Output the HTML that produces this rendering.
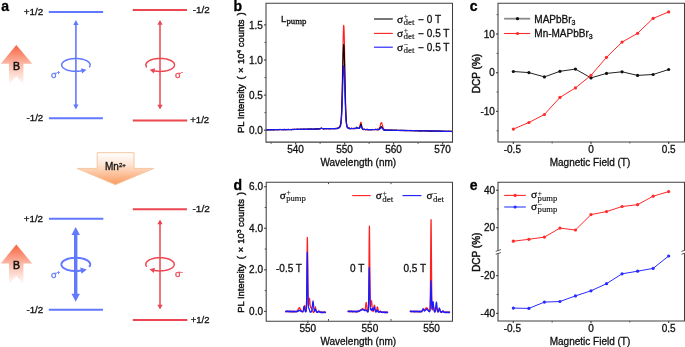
<!DOCTYPE html>
<html><head><meta charset="utf-8"><style>
html,body{margin:0;padding:0;background:#fff;}
svg{display:block;will-change:transform;} .rt text{stroke-width:0.45px;}
</style></head><body>
<svg xmlns="http://www.w3.org/2000/svg" width="685" height="347" viewBox="0 0 685 347">
<defs>
<linearGradient id="gB" x1="0" y1="0" x2="0" y2="1">
<stop offset="0" stop-color="#f8623f"/><stop offset="0.45" stop-color="#fbb3a0"/><stop offset="0.8" stop-color="#fde2d9"/><stop offset="1" stop-color="#fffaf8"/>
</linearGradient>
<linearGradient id="gMn" x1="0" y1="0" x2="0" y2="1">
<stop offset="0" stop-color="#ffffff"/><stop offset="0.35" stop-color="#fde6d6"/><stop offset="1" stop-color="#fb9a5c"/>
</linearGradient>
</defs>
<rect width="685" height="347" fill="#fff"/>
<text x="1.3" y="10.6" font-size="14" text-anchor="start" font-weight="bold" fill="#000" font-family='"Liberation Sans", sans-serif'  stroke="#000" stroke-width="0.3">a</text>
<line x1="48.8" y1="11.9" x2="103.1" y2="11.9" stroke="#6178ff" stroke-width="2" />
<text x="23.87" y="14.8" font-size="9" fill="#111" font-family='"Liberation Sans", sans-serif' textLength="19.5" lengthAdjust="spacingAndGlyphs" stroke="#111" stroke-width="0.3">+1/2</text>
<line x1="132.8" y1="9.9" x2="187" y2="9.9" stroke="#ec4650" stroke-width="2" />
<text x="192.71" y="12.9" font-size="9" fill="#111" font-family='"Liberation Sans", sans-serif' textLength="16.95" lengthAdjust="spacingAndGlyphs" stroke="#111" stroke-width="0.3">-1/2</text>
<line x1="75.9" y1="24.4" x2="75.9" y2="105" stroke="#6178ff" stroke-width="1.6" />
<polygon points="75.9,19.9 73.3,24.9 78.5,24.9" fill="#6178ff" />
<polygon points="75.9,109.5 73.3,104.5 78.5,104.5" fill="#6178ff" />
<line x1="160" y1="24.3" x2="160" y2="105.2" stroke="#ec4650" stroke-width="1.5" />
<polygon points="160,20 157.4,24.8 162.6,24.8" fill="#ec4650" />
<polygon points="160,109.5 157.4,104.7 162.6,104.7" fill="#ec4650" />
<line x1="48.9" y1="118.2" x2="102.9" y2="118.2" stroke="#6178ff" stroke-width="2" />
<text x="26.52" y="121.3" font-size="9" fill="#111" font-family='"Liberation Sans", sans-serif' textLength="16.74" lengthAdjust="spacingAndGlyphs" stroke="#111" stroke-width="0.3">-1/2</text>
<line x1="132.8" y1="120.4" x2="187.2" y2="120.4" stroke="#ec4650" stroke-width="2" />
<text x="190.28" y="123.3" font-size="9" fill="#111" font-family='"Liberation Sans", sans-serif' textLength="18.87" lengthAdjust="spacingAndGlyphs" stroke="#111" stroke-width="0.3">+1/2</text>
<polygon points="16.3,45 32.2,63.8 23.4,63.8 23.4,84.4 16.3,76.3 9,84.4 9,63.8 0.8,63.8" fill="url(#gB)" />
<text x="16.5" y="69.5" font-size="10.5" text-anchor="middle" fill="#111" stroke="#111" stroke-width="0.55" font-family='"Liberation Sans", sans-serif'>B</text>
<polyline points="89.07,67.3 89.37,66.93 89.62,66.55 89.82,66.17 89.97,65.78 90.06,65.38 90.1,64.99 90.08,64.59 90.02,64.2 89.89,63.81 89.72,63.42 89.49,63.04 89.21,62.67 88.88,62.3 88.5,61.95 88.07,61.6 87.6,61.27 87.08,60.95 86.52,60.65 85.92,60.36 85.28,60.09 84.6,59.84 83.9,59.61 83.16,59.4 82.39,59.21 81.6,59.04 80.79,58.89 79.96,58.77 79.11,58.67 78.25,58.59 77.38,58.54 76.51,58.51 75.64,58.5 74.76,58.52 73.89,58.56 73.03,58.63 72.18,58.72 71.34,58.84 70.52,58.98 69.72,59.14 68.94,59.32 68.19,59.52 67.47,59.75 66.79,59.99 66.13,60.26 65.51,60.54 64.94,60.83 64.4,61.14 63.91,61.47 63.46,61.81 63.07,62.16 62.72,62.52 62.42,62.89 62.17,63.27 61.97,63.66 61.83,64.05 61.74,64.44 61.7,64.83 61.72,65.23 61.79,65.62 61.92,66.01 62.09,66.4 62.33,66.78 62.61,67.15 62.94,67.52 63.32,67.87 63.75,68.22 64.23,68.55 64.75,68.86 65.31,69.17 65.92,69.45 66.56,69.72 67.24,69.97 67.95,70.2 68.69,70.41 69.45,70.6 70.25,70.77 71.06,70.92 71.89,71.04 72.74,71.14 73.6,71.22 74.47,71.27 75.34,71.29 76.21,71.3 77.09,71.28 77.96,71.23 78.82,71.16 79.67,71.07 80.51,70.95 81.33,70.81 82.12,70.65" stroke="#6178ff" stroke-width="1.5" fill="none" stroke-linejoin="round" />
<polygon points="86.42,69.71 82.12,73.42 80.96,68.14" fill="#6178ff" />
<polyline points="146.94,67.33 146.64,66.96 146.38,66.58 146.18,66.18 146.03,65.79 145.94,65.39 145.9,64.99 145.92,64.59 145.99,64.19 146.11,63.79 146.29,63.4 146.52,63.01 146.8,62.63 147.13,62.26 147.51,61.9 147.94,61.55 148.42,61.22 148.94,60.89 149.51,60.58 150.11,60.29 150.76,60.02 151.44,59.76 152.15,59.53 152.89,59.31 153.66,59.12 154.46,58.95 155.28,58.8 156.11,58.67 156.97,58.57 157.83,58.49 158.71,58.44 159.58,58.41 160.47,58.4 161.35,58.42 162.22,58.47 163.09,58.53 163.95,58.63 164.79,58.74 165.62,58.88 166.42,59.05 167.21,59.23 167.96,59.44 168.69,59.67 169.38,59.92 170.04,60.18 170.66,60.47 171.24,60.77 171.78,61.09 172.27,61.42 172.72,61.76 173.12,62.12 173.48,62.49 173.78,62.86 174.03,63.25 174.23,63.64 174.37,64.03 174.46,64.43 174.5,64.83 174.48,65.23 174.41,65.63 174.28,66.03 174.1,66.42 173.87,66.81 173.59,67.19 173.25,67.56 172.86,67.92 172.43,68.27 171.95,68.6 171.43,68.93 170.86,69.23 170.25,69.52 169.61,69.8 168.93,70.05 168.21,70.28 167.46,70.5 166.69,70.69 165.89,70.86 165.08,71.01 164.24,71.14 163.38,71.24 162.52,71.31 161.65,71.37 160.77,71.39 159.88,71.4 159,71.38 158.13,71.33 157.26,71.26 156.4,71.17 155.56,71.05 154.74,70.91 153.93,70.74" stroke="#ec4650" stroke-width="1.5" fill="none" stroke-linejoin="round" />
<polygon points="149.64,69.79 155.1,68.24 153.93,73.51" fill="#ec4650" />
<text x="50.9" y="77.9" font-size="9.5" fill="#6178ff" font-family='"Liberation Sans", sans-serif' stroke="#6178ff" stroke-width="0.3">σ<tspan font-size="5.7" dy="-3.5">+</tspan></text>
<text x="175.1" y="77.9" font-size="9.5" fill="#ec4650" font-family='"Liberation Sans", sans-serif' stroke="#ec4650" stroke-width="0.3">σ<tspan font-size="5.7" dy="-3.5">-</tspan></text>
<polygon points="97.2,152.7 134,152.7 134,168.4 153.7,168.4 115.4,184.7 77.2,168.4 97.2,168.4" fill="url(#gMn)" stroke="#f6c6a0" stroke-width="1"/>
<text x="105.0" y="169.6" font-size="10" fill="#111" font-family='"Liberation Sans", sans-serif' stroke="#111" stroke-width="0.3">Mn<tspan font-size="6.2" dy="-2.7">2+</tspan></text>
<line x1="49" y1="218.7" x2="103.3" y2="218.7" stroke="#6178ff" stroke-width="2" />
<text x="23.77" y="221.8" font-size="9" fill="#111" font-family='"Liberation Sans", sans-serif' textLength="19.29" lengthAdjust="spacingAndGlyphs" stroke="#111" stroke-width="0.3">+1/2</text>
<line x1="132.8" y1="209.2" x2="186.9" y2="209.2" stroke="#ec4650" stroke-width="2" />
<text x="192.5" y="212" font-size="9" fill="#111" font-family='"Liberation Sans", sans-serif' textLength="17.27" lengthAdjust="spacingAndGlyphs" stroke="#111" stroke-width="0.3">-1/2</text>
<line x1="75.7" y1="234.5" x2="75.7" y2="294.3" stroke="#6178ff" stroke-width="3.4" />
<polygon points="75.7,227 71.5,235 79.9,235" fill="#6178ff" />
<polygon points="75.7,301.8 71.5,293.8 79.9,293.8" fill="#6178ff" />
<line x1="160" y1="223.8" x2="160" y2="305.2" stroke="#ec4650" stroke-width="1.5" />
<polygon points="160,219.5 157.4,224.3 162.6,224.3" fill="#ec4650" />
<polygon points="160,309.5 157.4,304.7 162.6,304.7" fill="#ec4650" />
<line x1="48.8" y1="309.8" x2="103" y2="309.8" stroke="#6178ff" stroke-width="2" />
<text x="26.42" y="312.7" font-size="9" fill="#111" font-family='"Liberation Sans", sans-serif' textLength="16.84" lengthAdjust="spacingAndGlyphs" stroke="#111" stroke-width="0.3">-1/2</text>
<line x1="132.8" y1="319.9" x2="187.4" y2="319.9" stroke="#ec4650" stroke-width="2" />
<text x="190.69" y="322.5" font-size="9" fill="#111" font-family='"Liberation Sans", sans-serif' textLength="18.76" lengthAdjust="spacingAndGlyphs" stroke="#111" stroke-width="0.3">+1/2</text>
<polygon points="16.3,244.6 32.2,263.4 23.4,263.4 23.4,284 16.3,275.9 9,284 9,263.4 0.8,263.4" fill="url(#gB)" />
<text x="16.5" y="269.1" font-size="10.5" text-anchor="middle" fill="#111" stroke="#111" stroke-width="0.55" font-family='"Liberation Sans", sans-serif'>B</text>
<polyline points="89.15,266.87 89.46,266.49 89.71,266.11 89.91,265.72 90.06,265.32 90.16,264.92 90.2,264.52 90.19,264.11 90.12,263.71 90,263.31 89.83,262.92 89.61,262.53 89.33,262.14 89.01,261.77 88.63,261.4 88.21,261.05 87.74,260.71 87.22,260.38 86.67,260.07 86.07,259.77 85.44,259.5 84.76,259.23 84.06,258.99 83.32,258.77 82.56,258.57 81.77,258.39 80.96,258.24 80.13,258.11 79.28,258 78.42,257.91 77.55,257.85 76.68,257.81 75.8,257.8 74.92,257.81 74.05,257.85 73.18,257.91 72.32,258 71.47,258.11 70.64,258.24 69.83,258.39 69.04,258.57 68.28,258.77 67.54,258.99 66.84,259.23 66.16,259.5 65.53,259.77 64.93,260.07 64.38,260.38 63.86,260.71 63.39,261.05 62.97,261.4 62.59,261.77 62.27,262.14 61.99,262.53 61.77,262.92 61.6,263.31 61.48,263.71 61.41,264.11 61.4,264.52 61.44,264.92 61.54,265.32 61.69,265.72 61.89,266.11 62.14,266.49 62.45,266.87 62.8,267.24 63.21,267.6 63.66,267.95 64.15,268.28 64.69,268.6 65.27,268.9 65.89,269.19 66.54,269.46 67.23,269.71 67.96,269.94 68.71,270.14 69.49,270.33 70.29,270.5 71.11,270.64 71.95,270.76 72.81,270.86 73.67,270.93 74.54,270.97 75.42,271 76.3,271 77.18,270.97 78.05,270.92 78.92,270.84 79.77,270.74 80.61,270.62 81.43,270.48" stroke="#6178ff" stroke-width="2.0" fill="none" stroke-linejoin="round" />
<polygon points="86.83,269.42 81.45,273.73 80.23,267.45" fill="#6178ff" />
<polyline points="146.83,266.77 146.53,266.39 146.28,266 146.08,265.6 145.93,265.2 145.84,264.8 145.8,264.39 145.82,263.99 145.88,263.58 146.01,263.18 146.18,262.78 146.41,262.39 146.69,262 147.02,261.62 147.4,261.26 147.83,260.9 148.3,260.56 148.82,260.23 149.38,259.92 149.98,259.62 150.62,259.34 151.3,259.08 152,258.85 152.74,258.63 153.51,258.43 154.3,258.26 155.11,258.1 155.94,257.98 156.79,257.87 157.65,257.79 158.52,257.74 159.39,257.71 160.26,257.7 161.14,257.72 162.01,257.77 162.87,257.84 163.72,257.93 164.56,258.05 165.38,258.19 166.18,258.36 166.96,258.55 167.71,258.76 168.43,258.99 169.11,259.24 169.77,259.51 170.39,259.8 170.96,260.1 171.5,260.43 171.99,260.76 172.44,261.11 172.83,261.48 173.18,261.85 173.48,262.23 173.73,262.62 173.93,263.02 174.07,263.42 174.16,263.82 174.2,264.23 174.18,264.64 174.11,265.04 173.98,265.45 173.81,265.84 173.57,266.24 173.29,266.62 172.96,267 172.58,267.36 172.15,267.72 171.67,268.06 171.15,268.39 170.59,268.7 169.98,268.99 169.34,269.27 168.66,269.53 167.95,269.77 167.21,269.98 166.45,270.18 165.65,270.35 164.84,270.5 164.01,270.63 163.16,270.73 162.3,270.81 161.43,270.87 160.56,270.89 159.69,270.9 158.81,270.88 157.94,270.83 157.08,270.76 156.23,270.66 155.39,270.54 154.57,270.4 153.78,270.23" stroke="#ec4650" stroke-width="1.5" fill="none" stroke-linejoin="round" />
<polygon points="149.48,269.26 154.96,267.73 153.76,273" fill="#ec4650" />
<text x="50.9" y="277.7" font-size="9.5" fill="#6178ff" font-family='"Liberation Sans", sans-serif' stroke="#6178ff" stroke-width="0.3">σ<tspan font-size="5.7" dy="-3.5">+</tspan></text>
<text x="175.1" y="277.3" font-size="9.5" fill="#ec4650" font-family='"Liberation Sans", sans-serif' stroke="#ec4650" stroke-width="0.3">σ<tspan font-size="5.7" dy="-3.5">-</tspan></text>
<text x="233.4" y="10.6" font-size="14" text-anchor="start" font-weight="bold" fill="#000" font-family='"Liberation Sans", sans-serif'  stroke="#000" stroke-width="0.3">b</text>
<clipPath id="cb"><rect x="266" y="3.2" width="186.4" height="139"/></clipPath>
<g clip-path="url(#cb)">
<polyline points="265.5,129.65 266,129.94 266.5,129.9 267,129.69 267.5,129.78 268,129.75 268.5,129.83 269,129.88 269.5,129.59 270,129.56 270.5,129.88 271,129.71 271.5,129.83 272,129.52 272.5,129.69 273,129.8 273.5,129.59 274,129.87 274.5,129.85 275,129.49 275.5,129.49 276,129.68 276.5,129.84 277,129.61 277.5,129.54 278,129.61 278.5,129.45 279,129.52 279.5,129.6 280,129.61 280.5,129.5 281,129.49 281.5,129.48 282,129.57 282.5,129.5 283,129.38 283.5,129.7 284,129.59 284.5,129.61 285,129.42 285.5,129.74 286,129.68 286.5,129.37 287,129.45 287.5,129.6 288,129.58 288.5,129.67 289,129.45 289.5,129.61 290,129.53 290.5,129.38 291,129.49 291.5,129.59 292,129.57 292.5,129.43 293,129.45 293.5,129.22 294,129.3 294.5,129.51 295,129.35 295.5,129.24 296,129.39 296.5,129.44 297,129.42 297.5,129.29 298,129.31 298.5,129.33 299,129.43 299.5,129.32 300,129.26 300.5,129.29 301,129.1 301.5,129.09 302,129.35 302.5,129.45 303,129.29 303.5,129.2 304,129.1 304.5,129.23 305,129.41 305.5,129.32 306,129.22 306.5,129.34 307,129.08 307.5,129.18 308,129.35 308.5,129.19 309,129.13 309.5,129.05 310,129.15 310.5,129.31 311,128.92 311.5,129.22 312,129.23 312.5,129.25 313,129.18 313.5,129.2 314,129.07 314.5,129.08 315,129.02 315.5,128.86 316,129.18 316.5,129.05 317,128.9 317.5,129.01 318,128.99 318.5,128.91 319,128.88 319.5,128.93 320,128.86 320.5,128.62 321,128.32 321.5,128.08 322,128.35 322.5,128.51 323,128.78 323.5,128.87 324,128.82 324.5,128.82 325,128.82 325.5,128.59 326,128.82 326.5,128.75 327,128.51 327.5,128.48 328,128.48 328.5,128.77 329,128.56 329.5,128.5 330,128.71 330.5,128.59 331,128.48 331.5,128.51 332,128.65 332.5,128.51 333,128.54 333.5,128.72 334,128.61 334.5,128.55 335,128.6 335.5,128.41 336,128.53 336.5,128.51 337,128.35 337.5,128.19 337.7,128.44 337.9,128.21 338.1,127.99 338.3,128.03 338.5,127.98 338.7,127.5 338.9,127.32 339.1,127.16 339.3,127.14 339.5,126.64 339.7,126.53 339.9,126.13 340.1,125.59 340.3,124.83 340.5,124.3 340.7,123.09 340.9,121.41 341.1,119.1 341.3,116.26 341.5,112.12 341.7,106.92 341.9,100.15 342.1,92.18 342.3,82.54 342.5,72.21 342.7,61.54 342.9,50.75 343.1,40.75 343.3,33.01 343.5,27.38 343.7,25.3 343.9,26.22 344.1,30.32 344.3,37.31 344.5,46.46 344.7,57.42 344.9,68.24 345.1,79.5 345.3,89.67 345.5,98.39 345.7,105.68 345.9,111.95 346.1,116.62 346.3,119.96 346.5,122.38 346.7,124.09 346.9,125.3 347.1,126.09 347.3,126.86 347.5,127.17 347.7,127.37 347.9,127.55 348.1,127.94 348.3,127.92 348.5,128.11 348.7,128.13 348.9,128.41 349.1,128.48 349.3,128.17 349.5,128.28 349.7,128.37 349.9,128.65 350.1,128.59 350.6,128.45 351.1,128.41 351.6,128.61 352.1,128.68 352.6,128.71 353.1,128.47 353.6,128.68 354.1,128.6 354.6,128.51 355.1,128.7 355.6,128.39 356.1,128.04 356.6,127.24 357.1,127.53 357.6,128.28 358.1,128.21 358.3,128.44 358.5,128.38 358.7,128.47 358.9,128.23 359.1,128.12 359.3,127.88 359.5,127.74 359.7,127.06 359.9,126.4 360.1,125.4 360.3,124.07 360.5,123.29 360.7,122.47 360.9,122.24 361.1,122.56 361.3,123.62 361.5,124.63 361.7,125.78 361.9,126.64 362.1,127.64 362.3,128.38 362.5,128.69 362.7,129.08 362.9,129.14 363.1,129.19 363.3,129.3 363.5,129.57 363.7,129.45 363.9,129.61 364.1,129.43 364.6,129.38 365.1,129.6 365.6,129.64 366.1,129.34 366.6,129.62 367.1,129.41 367.6,129.44 368.1,129.77 368.6,129.46 369.1,129.56 369.6,129.88 370.1,129.66 370.6,129.52 371.1,129.52 371.6,129.53 372.1,129.71 372.6,129.44 373.1,129.74 373.6,129.51 374.1,129.72 374.6,129.68 375.1,129.42 375.6,129.42 376.1,129.53 376.6,129.39 377.1,129.62 377.3,129.38 377.5,129.36 377.7,129.74 377.9,129.44 378.1,129.53 378.3,129.41 378.5,129.27 378.7,129.03 378.9,129.16 379.1,128.91 379.3,128.54 379.5,127.73 379.7,127.21 379.9,126.73 380.1,126.17 380.3,125.25 380.5,124.58 380.7,123.91 380.9,123.19 381.1,122.92 381.3,122.63 381.5,122.62 381.7,122.78 381.9,123.29 382.1,124.15 382.3,124.64 382.5,125.48 382.7,126.25 382.9,127.11 383.1,127.57 383.3,128.13 383.5,128.63 383.7,129.03 383.9,129.55 384.1,129.8 384.3,129.73 384.5,129.85 384.7,130.01 384.9,130.08 385.1,130.12 385.3,130 385.5,129.93 385.7,130.02 385.9,129.96 386.1,130.16 386.6,129.98 387.1,129.99 387.6,130.23 388.1,130.1 388.6,130.31 389.1,130.2 389.6,130.36 390.1,130.08 390.6,130.23 391.1,130.36 391.6,130.08 392.1,130.44 392.6,130.14 393.1,130.39 393.6,130.49 394.1,130.43 394.6,130.24 395.1,130.16 395.6,130.34 396.1,130.51 396.6,130.27 397.1,130.52 397.6,130.22 398.1,130.54 398.6,130.2 399.1,130.32 399.6,130.57 400.1,130.54 400.6,130.59 401.1,130.57 401.6,130.54 402.1,130.53 402.6,130.33 403.1,130.44 403.6,130.34 404.1,130.58 404.6,130.57 405.1,130.41 405.6,130.34 406.1,130.71 406.6,130.66 407.1,130.57 407.6,130.57 408.1,130.7 408.6,130.56 409.1,130.54 409.6,130.53 410.1,130.5 410.6,130.42 411.1,130.68 411.6,130.6 412.1,130.67 412.6,130.47 413.1,130.6 413.6,130.52 414.1,130.52 414.6,130.59 415.1,130.82 415.6,130.66 416.1,130.67 416.6,130.76 417.1,130.62 417.6,130.54 418.1,130.76 418.6,130.75 419.1,130.82 419.6,130.75 420.1,130.85 420.6,130.88 421.1,130.69 421.6,130.81 422.1,130.81 422.6,130.72 423.1,130.8 423.6,130.87 424.1,131.01 424.6,131.03 425.1,130.78 425.6,130.94 426.1,130.71 426.6,130.73 427.1,130.91 427.6,131.07 428.1,130.79 428.6,131.05 429.1,131.1 429.6,130.88 430.1,131.04 430.6,131.12 431.1,130.94 431.6,131.08 432.1,131.1 432.6,131.05 433.1,131.17 433.6,131.19 434.1,131.23 434.6,131.08 435.1,130.93 435.6,130.97 436.1,130.97 436.6,131.12 437.1,131.21 437.6,130.93 438.1,131.19 438.6,131.22 439.1,131.08 439.6,131.16 440.1,131.03 440.6,131.26 441.1,131 441.6,131.38 442.1,131.32 442.6,131.26 443.1,131.13 443.6,131.39 444.1,131.42 444.6,131.1 445.1,131.37 445.6,131.4 446.1,131.34 446.6,131.37 447.1,131.27 447.6,131.48 448.1,131.5 448.6,131.28 449.1,131.46 449.6,131.32 450.1,131.22 450.6,131.29 451.1,131.22 451.6,131.55 452.1,131.58 452.6,131.25" stroke="#ff2020" stroke-width="1.15" fill="none" stroke-linejoin="round" />
<polyline points="265.5,129.98 266,129.98 266.5,129.62 267,129.62 267.5,129.91 268,129.87 268.5,129.83 269,129.68 269.5,129.8 270,129.79 270.5,129.77 271,129.6 271.5,129.7 272,129.68 272.5,129.8 273,129.91 273.5,129.88 274,129.71 274.5,129.67 275,129.59 275.5,129.49 276,129.48 276.5,129.65 277,129.58 277.5,129.6 278,129.8 278.5,129.65 279,129.65 279.5,129.52 280,129.43 280.5,129.54 281,129.46 281.5,129.6 282,129.79 282.5,129.65 283,129.45 283.5,129.73 284,129.68 284.5,129.65 285,129.71 285.5,129.65 286,129.65 286.5,129.47 287,129.71 287.5,129.69 288,129.36 288.5,129.59 289,129.57 289.5,129.46 290,129.48 290.5,129.45 291,129.62 291.5,129.44 292,129.57 292.5,129.37 293,129.57 293.5,129.57 294,129.38 294.5,129.42 295,129.55 295.5,129.46 296,129.36 296.5,129.25 297,129.28 297.5,129.42 298,129.2 298.5,129.49 299,129.22 299.5,129.47 300,129.22 300.5,129.47 301,129.37 301.5,129.28 302,129.27 302.5,129.32 303,129.29 303.5,129.17 304,129.12 304.5,129.23 305,129.39 305.5,129.26 306,129.03 306.5,129.32 307,129.27 307.5,129.34 308,129.04 308.5,129.26 309,128.97 309.5,129.2 310,129.04 310.5,129.02 311,129.27 311.5,128.95 312,129.11 312.5,129.23 313,128.98 313.5,128.96 314,129.22 314.5,129.03 315,129.14 315.5,128.85 316,128.98 316.5,128.89 317,129.09 317.5,128.84 318,129.18 318.5,128.78 319,129.04 319.5,128.73 320,128.71 320.5,128.7 321,128.2 321.5,128.15 322,128.53 322.5,128.59 323,128.56 323.5,128.92 324,128.56 324.5,128.51 325,128.63 325.5,128.74 326,128.78 326.5,128.53 327,128.61 327.5,128.49 328,128.65 328.5,128.77 329,128.76 329.5,128.82 330,128.76 330.5,128.8 331,128.73 331.5,128.64 332,128.53 332.5,128.7 333,128.56 333.5,128.47 334,128.61 334.5,128.77 335,128.47 335.5,128.64 336,128.54 336.5,128.56 337,128.35 337.5,128.58 337.7,128.25 337.9,128.32 338.1,128.17 338.3,127.91 338.5,128.02 338.7,127.72 338.9,127.54 339.1,127.36 339.3,127.21 339.5,126.96 339.7,126.91 339.9,126.54 340.1,126.33 340.3,125.81 340.5,125.16 340.7,123.93 340.9,122.74 341.1,120.89 341.3,118.59 341.5,115.33 341.7,111.12 341.9,105.69 342.1,98.95 342.3,91.39 342.5,82.99 342.7,73.92 342.9,65.22 343.1,57.45 343.3,50.89 343.5,46.75 343.7,44.67 343.9,45.41 344.1,48.87 344.3,54.61 344.5,62.09 344.7,70.82 344.9,79.83 345.1,88.63 345.3,96.95 345.5,103.98 345.7,110.29 345.9,115.16 346.1,118.81 346.3,121.49 346.5,123.55 346.7,125 346.9,125.78 347.1,126.61 347.3,127.13 347.5,127.32 347.7,127.52 347.9,127.98 348.1,127.94 348.3,128.11 348.5,128.36 348.7,128.3 348.9,128.23 349.1,128.55 349.3,128.35 349.5,128.24 349.7,128.53 349.9,128.31 350.1,128.41 350.6,128.65 351.1,128.6 351.6,128.35 352.1,128.53 352.6,128.51 353.1,128.53 353.6,128.41 354.1,128.56 354.6,128.34 355.1,128.42 355.6,128.45 356.1,128.13 356.6,127.24 357.1,127.77 357.6,128 358.1,128.35 358.3,128.29 358.5,128.33 358.7,128.44 358.9,128.27 359.1,128.09 359.3,127.94 359.5,127.66 359.7,127.55 359.9,126.89 360.1,126.31 360.3,125.47 360.5,124.53 360.7,124.32 360.9,124.24 361.1,124.45 361.3,124.92 361.5,125.63 361.7,126.51 361.9,127.44 362.1,127.89 362.3,128.51 362.5,128.85 362.7,129.29 362.9,129.4 363.1,129.54 363.3,129.53 363.5,129.34 363.7,129.32 363.9,129.43 364.1,129.35 364.6,129.44 365.1,129.56 365.6,129.68 366.1,129.57 366.6,129.68 367.1,129.41 367.6,129.54 368.1,129.82 368.6,129.5 369.1,129.63 369.6,129.51 370.1,129.53 370.6,129.83 371.1,129.85 371.6,129.7 372.1,129.47 372.6,129.51 373.1,129.47 373.6,129.62 374.1,129.61 374.6,129.49 375.1,129.51 375.6,129.36 376.1,129.55 376.6,129.73 377.1,129.67 377.3,129.41 377.5,129.58 377.7,129.66 377.9,129.47 378.1,129.71 378.3,129.52 378.5,129.59 378.7,129.41 378.9,129.56 379.1,129.36 379.3,129.11 379.5,128.74 379.7,128.61 379.9,128.16 380.1,128.07 380.3,127.86 380.5,127.25 380.7,127.09 380.9,126.83 381.1,126.63 381.3,126.67 381.5,126.78 381.7,126.8 381.9,126.91 382.1,127.38 382.3,127.46 382.5,127.98 382.7,128.31 382.9,128.7 383.1,129.06 383.3,129.09 383.5,129.48 383.7,129.59 383.9,129.85 384.1,130.08 384.3,130.02 384.5,129.83 384.7,130.05 384.9,130.17 385.1,130.26 385.3,130.18 385.5,130.25 385.7,129.94 385.9,130.31 386.1,130.23 386.6,130.19 387.1,130.32 387.6,130.33 388.1,130.02 388.6,130.32 389.1,130.31 389.6,130.09 390.1,130.32 390.6,130.27 391.1,130.12 391.6,130.37 392.1,130.12 392.6,130.32 393.1,130.26 393.6,130.19 394.1,130.33 394.6,130.3 395.1,130.2 395.6,130.52 396.1,130.17 396.6,130.15 397.1,130.35 397.6,130.5 398.1,130.44 398.6,130.49 399.1,130.39 399.6,130.47 400.1,130.35 400.6,130.33 401.1,130.43 401.6,130.25 402.1,130.28 402.6,130.56 403.1,130.34 403.6,130.58 404.1,130.6 404.6,130.46 405.1,130.58 405.6,130.63 406.1,130.67 406.6,130.39 407.1,130.41 407.6,130.51 408.1,130.55 408.6,130.49 409.1,130.39 409.6,130.62 410.1,130.79 410.6,130.56 411.1,130.63 411.6,130.58 412.1,130.61 412.6,130.79 413.1,130.58 413.6,130.72 414.1,130.67 414.6,130.7 415.1,130.86 415.6,130.53 416.1,130.84 416.6,130.64 417.1,130.79 417.6,130.85 418.1,130.81 418.6,130.71 419.1,130.9 419.6,130.61 420.1,130.83 420.6,130.75 421.1,130.81 421.6,130.95 422.1,130.94 422.6,130.88 423.1,130.76 423.6,130.74 424.1,130.83 424.6,130.75 425.1,130.78 425.6,131.06 426.1,130.74 426.6,131.03 427.1,130.86 427.6,130.87 428.1,130.86 428.6,130.77 429.1,130.93 429.6,130.82 430.1,130.94 430.6,130.89 431.1,131.14 431.6,131.17 432.1,130.98 432.6,131.07 433.1,131.2 433.6,130.97 434.1,130.88 434.6,130.95 435.1,130.94 435.6,131.15 436.1,131.03 436.6,131.04 437.1,131.22 437.6,131.01 438.1,131.25 438.6,131.18 439.1,131.1 439.6,131.28 440.1,131.1 440.6,131.32 441.1,131.35 441.6,131.19 442.1,131.28 442.6,131.39 443.1,131.32 443.6,131.33 444.1,131.39 444.6,131.42 445.1,131.36 445.6,131.46 446.1,131.19 446.6,131.34 447.1,131.36 447.6,131.25 448.1,131.27 448.6,131.19 449.1,131.52 449.6,131.29 450.1,131.34 450.6,131.52 451.1,131.25 451.6,131.57 452.1,131.24 452.6,131.21" stroke="#000000" stroke-width="1.15" fill="none" stroke-linejoin="round" />
<polyline points="265.5,129.7 266,129.82 266.5,129.74 267,129.83 267.5,129.83 268,129.6 268.5,129.57 269,129.9 269.5,129.66 270,129.64 270.5,129.94 271,129.72 271.5,129.86 272,129.71 272.5,129.77 273,129.57 273.5,129.76 274,129.84 274.5,129.7 275,129.78 275.5,129.74 276,129.49 276.5,129.77 277,129.69 277.5,129.57 278,129.45 278.5,129.78 279,129.62 279.5,129.71 280,129.77 280.5,129.69 281,129.77 281.5,129.55 282,129.71 282.5,129.56 283,129.75 283.5,129.72 284,129.4 284.5,129.41 285,129.44 285.5,129.73 286,129.51 286.5,129.58 287,129.44 287.5,129.51 288,129.45 288.5,129.43 289,129.52 289.5,129.51 290,129.63 290.5,129.53 291,129.62 291.5,129.58 292,129.63 292.5,129.49 293,129.28 293.5,129.55 294,129.59 294.5,129.55 295,129.41 295.5,129.46 296,129.25 296.5,129.49 297,129.38 297.5,129.26 298,129.16 298.5,129.47 299,129.51 299.5,129.14 300,129.42 300.5,129.26 301,129.14 301.5,129.19 302,129.37 302.5,129.41 303,129.07 303.5,129.29 304,129.05 304.5,129.31 305,129.15 305.5,129.36 306,129.39 306.5,129.19 307,129.38 307.5,129.1 308,129 308.5,129.2 309,128.96 309.5,129.02 310,129.1 310.5,129.17 311,128.98 311.5,128.93 312,129.25 312.5,129.02 313,129.27 313.5,129.23 314,129.02 314.5,129.04 315,129.06 315.5,129.1 316,129.07 316.5,129.05 317,129.06 317.5,129.18 318,129 318.5,128.94 319,129.03 319.5,128.81 320,128.73 320.5,128.76 321,128.35 321.5,128.29 322,128.26 322.5,128.61 323,128.77 323.5,128.53 324,128.75 324.5,128.75 325,128.52 325.5,128.74 326,128.67 326.5,128.75 327,128.62 327.5,128.76 328,128.77 328.5,128.48 329,128.49 329.5,128.73 330,128.84 330.5,128.55 331,128.63 331.5,128.68 332,128.57 332.5,128.58 333,128.56 333.5,128.58 334,128.67 334.5,128.54 335,128.57 335.5,128.72 336,128.4 336.5,128.6 337,128.62 337.5,128.37 337.7,128.3 337.9,128.48 338.1,128.19 338.3,128.1 338.5,128.12 338.7,128.13 338.9,127.78 339.1,127.73 339.3,127.59 339.5,127.62 339.7,127.26 339.9,127.19 340.1,126.62 340.3,126.3 340.5,125.92 340.7,125.33 340.9,124.19 341.1,122.77 341.3,120.9 341.5,118.61 341.7,115.27 341.9,111.47 342.1,106.56 342.3,100.58 342.5,94.28 342.7,87.85 342.9,81.25 343.1,75.38 343.3,70.36 343.5,66.98 343.7,65.63 343.9,66.43 344.1,68.79 344.3,73.11 344.5,78.75 344.7,85.21 344.9,91.98 345.1,98.83 345.3,104.67 345.5,110 345.7,114.9 345.9,118.51 346.1,121.36 346.3,123.24 346.5,124.96 346.7,126.03 346.9,126.49 347.1,127.21 347.3,127.6 347.5,127.78 347.7,127.9 347.9,127.94 348.1,128.06 348.3,128.1 348.5,128.1 348.7,128.36 348.9,128.28 349.1,128.52 349.3,128.25 349.5,128.61 349.7,128.55 349.9,128.66 350.1,128.66 350.6,128.68 351.1,128.56 351.6,128.35 352.1,128.65 352.6,128.41 353.1,128.45 353.6,128.59 354.1,128.53 354.6,128.48 355.1,128.68 355.6,128.54 356.1,127.89 356.6,127.31 357.1,127.81 357.6,128.11 358.1,128.44 358.3,128.28 358.5,128.23 358.7,128.37 358.9,128.48 359.1,128.19 359.3,128.36 359.5,128.28 359.7,128.02 359.9,127.72 360.1,127.03 360.3,126.9 360.5,126.65 360.7,126.09 360.9,126.13 361.1,126.28 361.3,126.71 361.5,127.11 361.7,127.61 361.9,128.18 362.1,128.27 362.3,128.6 362.5,128.87 362.7,129.04 362.9,129.15 363.1,129.58 363.3,129.55 363.5,129.25 363.7,129.43 363.9,129.36 364.1,129.37 364.6,129.41 365.1,129.55 365.6,129.55 366.1,129.48 366.6,129.43 367.1,129.51 367.6,129.45 368.1,129.64 368.6,129.73 369.1,129.61 369.6,129.51 370.1,129.57 370.6,129.63 371.1,129.7 371.6,129.75 372.1,129.57 372.6,129.72 373.1,129.63 373.6,129.53 374.1,129.48 374.6,129.51 375.1,129.58 375.6,129.49 376.1,129.61 376.6,129.54 377.1,129.47 377.3,129.59 377.5,129.65 377.7,129.41 377.9,129.55 378.1,129.54 378.3,129.72 378.5,129.72 378.7,129.47 378.9,129.63 379.1,129.51 379.3,129.2 379.5,129.15 379.7,128.85 379.9,128.94 380.1,128.68 380.3,128.55 380.5,128.31 380.7,128.06 380.9,127.93 381.1,127.76 381.3,127.52 381.5,127.74 381.7,127.58 381.9,127.78 382.1,128.22 382.3,128.16 382.5,128.42 382.7,128.67 382.9,129.22 383.1,129.16 383.3,129.29 383.5,129.78 383.7,129.63 383.9,130.02 384.1,130.03 384.3,130.15 384.5,130.23 384.7,130.11 384.9,130.22 385.1,129.92 385.3,130.23 385.5,130.13 385.7,130.22 385.9,129.98 386.1,130.24 386.6,130.33 387.1,129.99 387.6,130.1 388.1,130.21 388.6,130.32 389.1,130.1 389.6,130.08 390.1,130.12 390.6,130.28 391.1,130.34 391.6,130.21 392.1,130.21 392.6,130.23 393.1,130.22 393.6,130.26 394.1,130.14 394.6,130.31 395.1,130.51 395.6,130.3 396.1,130.44 396.6,130.21 397.1,130.43 397.6,130.47 398.1,130.45 398.6,130.39 399.1,130.39 399.6,130.46 400.1,130.57 400.6,130.28 401.1,130.27 401.6,130.54 402.1,130.62 402.6,130.47 403.1,130.45 403.6,130.57 404.1,130.36 404.6,130.41 405.1,130.39 405.6,130.55 406.1,130.45 406.6,130.43 407.1,130.62 407.6,130.74 408.1,130.48 408.6,130.66 409.1,130.55 409.6,130.73 410.1,130.64 410.6,130.52 411.1,130.51 411.6,130.44 412.1,130.63 412.6,130.6 413.1,130.52 413.6,130.61 414.1,130.6 414.6,130.79 415.1,130.55 415.6,130.9 416.1,130.7 416.6,130.76 417.1,130.71 417.6,130.87 418.1,130.87 418.6,130.78 419.1,130.76 419.6,130.86 420.1,130.92 420.6,130.75 421.1,130.89 421.6,130.99 422.1,130.8 422.6,130.72 423.1,130.73 423.6,130.93 424.1,130.92 424.6,131.05 425.1,131.01 425.6,130.78 426.1,130.77 426.6,130.8 427.1,130.78 427.6,131 428.1,131.07 428.6,131.1 429.1,130.85 429.6,131.1 430.1,130.89 430.6,130.95 431.1,131.08 431.6,130.83 432.1,130.84 432.6,131.15 433.1,130.94 433.6,130.98 434.1,131.08 434.6,131.12 435.1,130.87 435.6,131.01 436.1,131.06 436.6,131.09 437.1,130.99 437.6,131.15 438.1,131.3 438.6,131.09 439.1,131.16 439.6,131 440.1,131.07 440.6,131.24 441.1,131.03 441.6,131.34 442.1,131.36 442.6,131.05 443.1,131.4 443.6,131.18 444.1,131.35 444.6,131.35 445.1,131.18 445.6,131.34 446.1,131.34 446.6,131.41 447.1,131.2 447.6,131.41 448.1,131.5 448.6,131.39 449.1,131.35 449.6,131.19 450.1,131.35 450.6,131.3 451.1,131.46 451.6,131.45 452.1,131.42 452.6,131.27" stroke="#1a1aff" stroke-width="1.15" fill="none" stroke-linejoin="round" />
</g>
<path d="M266 3.3H452.5V142.1H266Z" fill="none" stroke="#404040" stroke-width="1.05" stroke-linejoin="miter"/>
<line x1="263.9" y1="130.2" x2="266.1" y2="130.2" stroke="#4a4a4a" stroke-width="1.2" />
<line x1="263.9" y1="95.1" x2="266.1" y2="95.1" stroke="#4a4a4a" stroke-width="1.2" />
<line x1="263.9" y1="60" x2="266.1" y2="60" stroke="#4a4a4a" stroke-width="1.2" />
<line x1="263.9" y1="24.9" x2="266.1" y2="24.9" stroke="#4a4a4a" stroke-width="1.2" />
<line x1="264.5" y1="112.65" x2="266.1" y2="112.65" stroke="#4a4a4a" stroke-width="1.0" />
<line x1="264.5" y1="77.55" x2="266.1" y2="77.55" stroke="#4a4a4a" stroke-width="1.0" />
<line x1="264.5" y1="42.45" x2="266.1" y2="42.45" stroke="#4a4a4a" stroke-width="1.0" />
<text x="262.8" y="133.8" font-size="10" text-anchor="end" font-weight="normal" fill="#111" font-family='"Liberation Sans", sans-serif'  stroke="#111" stroke-width="0.3">0.0</text>
<text x="262.8" y="98.7" font-size="10" text-anchor="end" font-weight="normal" fill="#111" font-family='"Liberation Sans", sans-serif'  stroke="#111" stroke-width="0.3">0.5</text>
<text x="262.8" y="63.6" font-size="10" text-anchor="end" font-weight="normal" fill="#111" font-family='"Liberation Sans", sans-serif'  stroke="#111" stroke-width="0.3">1.0</text>
<text x="262.8" y="28.5" font-size="10" text-anchor="end" font-weight="normal" fill="#111" font-family='"Liberation Sans", sans-serif'  stroke="#111" stroke-width="0.3">1.5</text>
<line x1="295.6" y1="142.2" x2="295.6" y2="144.4" stroke="#4a4a4a" stroke-width="1.2" />
<line x1="344.6" y1="142.2" x2="344.6" y2="144.4" stroke="#4a4a4a" stroke-width="1.2" />
<line x1="393.6" y1="142.2" x2="393.6" y2="144.4" stroke="#4a4a4a" stroke-width="1.2" />
<line x1="442.6" y1="142.2" x2="442.6" y2="144.4" stroke="#4a4a4a" stroke-width="1.2" />
<line x1="271.1" y1="142.2" x2="271.1" y2="143.8" stroke="#4a4a4a" stroke-width="1.0" />
<line x1="320.1" y1="142.2" x2="320.1" y2="143.8" stroke="#4a4a4a" stroke-width="1.0" />
<line x1="369.1" y1="142.2" x2="369.1" y2="143.8" stroke="#4a4a4a" stroke-width="1.0" />
<line x1="418.1" y1="142.2" x2="418.1" y2="143.8" stroke="#4a4a4a" stroke-width="1.0" />
<text x="295.6" y="152.8" font-size="10" text-anchor="middle" font-weight="normal" fill="#111" font-family='"Liberation Sans", sans-serif'  stroke="#111" stroke-width="0.3">540</text>
<text x="344.6" y="152.8" font-size="10" text-anchor="middle" font-weight="normal" fill="#111" font-family='"Liberation Sans", sans-serif'  stroke="#111" stroke-width="0.3">550</text>
<text x="393.6" y="152.8" font-size="10" text-anchor="middle" font-weight="normal" fill="#111" font-family='"Liberation Sans", sans-serif'  stroke="#111" stroke-width="0.3">560</text>
<text x="442.6" y="152.8" font-size="10" text-anchor="middle" font-weight="normal" fill="#111" font-family='"Liberation Sans", sans-serif'  stroke="#111" stroke-width="0.3">570</text>
<text x="358.3" y="165.5" font-size="10" text-anchor="middle" font-weight="normal" fill="#111" font-family='"Liberation Sans", sans-serif'  stroke="#111" stroke-width="0.3">Wavelength (nm)</text>
<g transform="translate(243.8 133) rotate(-90)" class="rt">
<text x="0" y="0" font-size="9.6" fill="#111" font-family='"Liberation Sans", sans-serif' textLength="48.6" lengthAdjust="spacingAndGlyphs" stroke="#111" stroke-width="0.3">PL Intensity</text>
<text x="53.4" y="0" font-size="9.6" fill="#111" font-family='"Liberation Sans", sans-serif' stroke="#111" stroke-width="0.3">(</text>
<text x="60.1" y="0" font-size="9.6" fill="#111" font-family='"Liberation Sans", sans-serif' stroke="#111" stroke-width="0.3">×</text>
<text x="69" y="0" font-size="9.6" fill="#111" font-family='"Liberation Sans", sans-serif' textLength="10.4" lengthAdjust="spacingAndGlyphs" stroke="#111" stroke-width="0.3">10</text>
<text x="79.6" y="-2.8" font-size="6.2" fill="#111" font-family='"Liberation Sans", sans-serif' stroke="#111" stroke-width="0.12">4</text>
<text x="85.7" y="0" font-size="9.6" fill="#111" font-family='"Liberation Sans", sans-serif' textLength="27.9" lengthAdjust="spacingAndGlyphs" stroke="#111" stroke-width="0.3">counts</text>
<text x="117.5" y="0" font-size="9.6" fill="#111" font-family='"Liberation Sans", sans-serif' stroke="#111" stroke-width="0.3">)</text>
</g>
<text x="281.1" y="22" font-size="9.7" fill="#111" font-family='"Liberation Sans", sans-serif' stroke="#111" stroke-width="0.3">L</text>
<text x="286.4" y="24" font-size="8.8" fill="#111" font-family='"Liberation Serif", serif' stroke="#111" stroke-width="0.3">pump</text>
<line x1="374" y1="19" x2="392.8" y2="19" stroke="#606060" stroke-width="1.7" />
<line x1="374" y1="33.4" x2="392.8" y2="33.4" stroke="#ff2020" stroke-width="1.1" />
<line x1="374" y1="47.2" x2="392.8" y2="47.2" stroke="#1a1aff" stroke-width="1.1" />
<text x="397" y="22.6" font-size="10.5" fill="#111" font-family='"Liberation Serif", serif' textLength="6.1" lengthAdjust="spacingAndGlyphs" stroke="#111" stroke-width="0.3">σ</text>
<text x="403.7" y="19" font-size="7.5" fill="#111" font-family='"Liberation Serif", serif' stroke="#111" stroke-width="0.12">+</text>
<text x="403.5" y="24.8" font-size="7.6" fill="#111" font-family='"Liberation Serif", serif' textLength="11" lengthAdjust="spacingAndGlyphs" stroke="#111" stroke-width="0.12">det</text>
<text x="418.2" y="22.7" font-size="10" text-anchor="start" font-weight="normal" fill="#111" font-family='"Liberation Sans", sans-serif'  stroke="#111" stroke-width="0.3">− 0 T</text>
<text x="397" y="37" font-size="10.5" fill="#111" font-family='"Liberation Serif", serif' textLength="6.1" lengthAdjust="spacingAndGlyphs" stroke="#111" stroke-width="0.3">σ</text>
<text x="403.7" y="33.4" font-size="7.5" fill="#111" font-family='"Liberation Serif", serif' stroke="#111" stroke-width="0.12">+</text>
<text x="403.5" y="39.2" font-size="7.6" fill="#111" font-family='"Liberation Serif", serif' textLength="11" lengthAdjust="spacingAndGlyphs" stroke="#111" stroke-width="0.12">det</text>
<text x="418.2" y="37.1" font-size="10" text-anchor="start" font-weight="normal" fill="#111" font-family='"Liberation Sans", sans-serif'  stroke="#111" stroke-width="0.3">− 0.5 T</text>
<text x="397" y="50.8" font-size="10.5" fill="#111" font-family='"Liberation Serif", serif' textLength="6.1" lengthAdjust="spacingAndGlyphs" stroke="#111" stroke-width="0.3">σ</text>
<text x="403.7" y="47.2" font-size="7.5" fill="#111" font-family='"Liberation Serif", serif' stroke="#111" stroke-width="0.12">−</text>
<text x="403.5" y="53" font-size="7.6" fill="#111" font-family='"Liberation Serif", serif' textLength="11" lengthAdjust="spacingAndGlyphs" stroke="#111" stroke-width="0.12">det</text>
<text x="418.2" y="50.9" font-size="10" text-anchor="start" font-weight="normal" fill="#111" font-family='"Liberation Sans", sans-serif'  stroke="#111" stroke-width="0.3">− 0.5 T</text>
<text x="469.8" y="10.6" font-size="14" text-anchor="start" font-weight="bold" fill="#000" font-family='"Liberation Sans", sans-serif'  stroke="#000" stroke-width="0.3">c</text>
<path d="M498 3.3H684.5V142H498Z" fill="none" stroke="#404040" stroke-width="1.05" stroke-linejoin="miter"/>
<line x1="496" y1="34" x2="498.2" y2="34" stroke="#4a4a4a" stroke-width="1.2" />
<line x1="496" y1="72.7" x2="498.2" y2="72.7" stroke="#4a4a4a" stroke-width="1.2" />
<line x1="496" y1="111.4" x2="498.2" y2="111.4" stroke="#4a4a4a" stroke-width="1.2" />
<line x1="496.6" y1="14.65" x2="498.2" y2="14.65" stroke="#4a4a4a" stroke-width="1.0" />
<line x1="496.6" y1="53.35" x2="498.2" y2="53.35" stroke="#4a4a4a" stroke-width="1.0" />
<line x1="496.6" y1="92.05" x2="498.2" y2="92.05" stroke="#4a4a4a" stroke-width="1.0" />
<line x1="496.6" y1="130.75" x2="498.2" y2="130.75" stroke="#4a4a4a" stroke-width="1.0" />
<text x="494.9" y="37.6" font-size="10" text-anchor="end" font-weight="normal" fill="#111" font-family='"Liberation Sans", sans-serif'  stroke="#111" stroke-width="0.3">10</text>
<text x="494.9" y="76.3" font-size="10" text-anchor="end" font-weight="normal" fill="#111" font-family='"Liberation Sans", sans-serif'  stroke="#111" stroke-width="0.3">0</text>
<text x="494.9" y="115" font-size="10" text-anchor="end" font-weight="normal" fill="#111" font-family='"Liberation Sans", sans-serif'  stroke="#111" stroke-width="0.3">-10</text>
<line x1="513.35" y1="141.8" x2="513.35" y2="144" stroke="#4a4a4a" stroke-width="1.2" />
<line x1="591" y1="141.8" x2="591" y2="144" stroke="#4a4a4a" stroke-width="1.2" />
<line x1="668.65" y1="141.8" x2="668.65" y2="144" stroke="#4a4a4a" stroke-width="1.2" />
<line x1="552.17" y1="141.8" x2="552.17" y2="143.4" stroke="#4a4a4a" stroke-width="1.0" />
<line x1="629.83" y1="141.8" x2="629.83" y2="143.4" stroke="#4a4a4a" stroke-width="1.0" />
<text x="512.35" y="152.5" font-size="10" text-anchor="middle" font-weight="normal" fill="#111" font-family='"Liberation Sans", sans-serif'  stroke="#111" stroke-width="0.3">-0.5</text>
<text x="591" y="152.5" font-size="10" text-anchor="middle" font-weight="normal" fill="#111" font-family='"Liberation Sans", sans-serif'  stroke="#111" stroke-width="0.3">0</text>
<text x="668.65" y="152.5" font-size="10" text-anchor="middle" font-weight="normal" fill="#111" font-family='"Liberation Sans", sans-serif'  stroke="#111" stroke-width="0.3">0.5</text>
<text x="590" y="165.8" font-size="10" text-anchor="middle" font-weight="normal" fill="#111" font-family='"Liberation Sans", sans-serif'  stroke="#111" stroke-width="0.3">Magnetic Field (T)</text>
<text x="479.6" y="73.5" font-size="10" text-anchor="middle" fill="#111" font-family='"Liberation Sans", sans-serif' transform="rotate(-90 479.6 73.5)" stroke="#111" stroke-width="0.45">DCP (%)</text>
<polyline points="513.35,71.5 528.88,72.6 544.41,76.9 559.94,71.3 575.47,69.1 591,77.9 606.53,73.4 622.06,71.8 637.59,75.4 653.12,74.5 668.65,69.5" stroke="#222" stroke-width="1.0" fill="none" stroke-linejoin="round" />
<circle cx="513.35" cy="71.5" r="1.6" fill="#111"/>
<circle cx="528.88" cy="72.6" r="1.6" fill="#111"/>
<circle cx="544.41" cy="76.9" r="1.6" fill="#111"/>
<circle cx="559.94" cy="71.3" r="1.6" fill="#111"/>
<circle cx="575.47" cy="69.1" r="1.6" fill="#111"/>
<circle cx="591" cy="77.9" r="1.6" fill="#111"/>
<circle cx="606.53" cy="73.4" r="1.6" fill="#111"/>
<circle cx="622.06" cy="71.8" r="1.6" fill="#111"/>
<circle cx="637.59" cy="75.4" r="1.6" fill="#111"/>
<circle cx="653.12" cy="74.5" r="1.6" fill="#111"/>
<circle cx="668.65" cy="69.5" r="1.6" fill="#111"/>
<polyline points="513.35,129.1 528.88,122.5 544.41,114.5 559.94,97.4 575.47,87.9 591,75.3 606.53,57.3 622.06,42.1 637.59,33.3 653.12,18.4 668.65,11.9" stroke="#ff2a2a" stroke-width="1.0" fill="none" stroke-linejoin="round" />
<circle cx="513.35" cy="129.1" r="1.6" fill="#ff2a2a"/>
<circle cx="528.88" cy="122.5" r="1.6" fill="#ff2a2a"/>
<circle cx="544.41" cy="114.5" r="1.6" fill="#ff2a2a"/>
<circle cx="559.94" cy="97.4" r="1.6" fill="#ff2a2a"/>
<circle cx="575.47" cy="87.9" r="1.6" fill="#ff2a2a"/>
<circle cx="591" cy="75.3" r="1.6" fill="#ff2a2a"/>
<circle cx="606.53" cy="57.3" r="1.6" fill="#ff2a2a"/>
<circle cx="622.06" cy="42.1" r="1.6" fill="#ff2a2a"/>
<circle cx="637.59" cy="33.3" r="1.6" fill="#ff2a2a"/>
<circle cx="653.12" cy="18.4" r="1.6" fill="#ff2a2a"/>
<circle cx="668.65" cy="11.9" r="1.6" fill="#ff2a2a"/>
<line x1="504.1" y1="18.7" x2="530.2" y2="18.7" stroke="#8a8a8a" stroke-width="1.8" />
<circle cx="517.5" cy="18.7" r="1.6" fill="#111"/>
<line x1="504.1" y1="33.5" x2="530.2" y2="33.5" stroke="#ff2a2a" stroke-width="1.1" />
<circle cx="517.5" cy="33.5" r="1.6" fill="#ff2a2a"/>
<text x="534.3" y="22.6" font-size="10" fill="#111" font-family='"Liberation Sans", sans-serif' stroke="#111" stroke-width="0.3">MAPbBr<tspan font-size="7" dy="2">3</tspan></text>
<text x="534.3" y="37.0" font-size="10" fill="#111" font-family='"Liberation Sans", sans-serif' stroke="#111" stroke-width="0.3">Mn-MAPbBr<tspan font-size="7" dy="2">3</tspan></text>
<text x="233.4" y="189.5" font-size="14" text-anchor="start" font-weight="bold" fill="#000" font-family='"Liberation Sans", sans-serif'  stroke="#000" stroke-width="0.3">d</text>
<path d="M266.2 182.3H452.5V321.2H266.2Z" fill="none" stroke="#404040" stroke-width="1.05" stroke-linejoin="miter"/>
<line x1="264.1" y1="311.4" x2="266.3" y2="311.4" stroke="#4a4a4a" stroke-width="1.2" />
<line x1="264.1" y1="269.84" x2="266.3" y2="269.84" stroke="#4a4a4a" stroke-width="1.2" />
<line x1="264.1" y1="228.28" x2="266.3" y2="228.28" stroke="#4a4a4a" stroke-width="1.2" />
<line x1="264.1" y1="186.72" x2="266.3" y2="186.72" stroke="#4a4a4a" stroke-width="1.2" />
<line x1="264.7" y1="290.62" x2="266.3" y2="290.62" stroke="#4a4a4a" stroke-width="1.0" />
<line x1="264.7" y1="249.06" x2="266.3" y2="249.06" stroke="#4a4a4a" stroke-width="1.0" />
<line x1="264.7" y1="207.5" x2="266.3" y2="207.5" stroke="#4a4a4a" stroke-width="1.0" />
<text x="263" y="315" font-size="10" text-anchor="end" font-weight="normal" fill="#111" font-family='"Liberation Sans", sans-serif'  stroke="#111" stroke-width="0.3">0.0</text>
<text x="263" y="273.44" font-size="10" text-anchor="end" font-weight="normal" fill="#111" font-family='"Liberation Sans", sans-serif'  stroke="#111" stroke-width="0.3">2.0</text>
<text x="263" y="231.88" font-size="10" text-anchor="end" font-weight="normal" fill="#111" font-family='"Liberation Sans", sans-serif'  stroke="#111" stroke-width="0.3">4.0</text>
<text x="263" y="190.32" font-size="10" text-anchor="end" font-weight="normal" fill="#111" font-family='"Liberation Sans", sans-serif'  stroke="#111" stroke-width="0.3">6.0</text>
<line x1="307.8" y1="320.8" x2="307.8" y2="323" stroke="#4a4a4a" stroke-width="1.2" />
<line x1="369.9" y1="320.8" x2="369.9" y2="323" stroke="#4a4a4a" stroke-width="1.2" />
<line x1="431.5" y1="320.8" x2="431.5" y2="323" stroke="#4a4a4a" stroke-width="1.2" />
<text x="307.8" y="332" font-size="10" text-anchor="middle" font-weight="normal" fill="#111" font-family='"Liberation Sans", sans-serif'  stroke="#111" stroke-width="0.3">550</text>
<text x="369.9" y="332" font-size="10" text-anchor="middle" font-weight="normal" fill="#111" font-family='"Liberation Sans", sans-serif'  stroke="#111" stroke-width="0.3">550</text>
<text x="431.5" y="332" font-size="10" text-anchor="middle" font-weight="normal" fill="#111" font-family='"Liberation Sans", sans-serif'  stroke="#111" stroke-width="0.3">550</text>
<line x1="328.5" y1="320.8" x2="328.5" y2="319" stroke="#4a4a4a" stroke-width="1.0" />
<line x1="328.5" y1="182.3" x2="328.5" y2="184.1" stroke="#4a4a4a" stroke-width="1.0" />
<line x1="391" y1="320.8" x2="391" y2="319" stroke="#4a4a4a" stroke-width="1.0" />
<line x1="391" y1="182.3" x2="391" y2="184.1" stroke="#4a4a4a" stroke-width="1.0" />
<text x="358.3" y="345" font-size="10" text-anchor="middle" font-weight="normal" fill="#111" font-family='"Liberation Sans", sans-serif'  stroke="#111" stroke-width="0.3">Wavelength (nm)</text>
<g transform="translate(243.8 312.7) rotate(-90)" class="rt">
<text x="0" y="0" font-size="9.6" fill="#111" font-family='"Liberation Sans", sans-serif' textLength="48.6" lengthAdjust="spacingAndGlyphs" stroke="#111" stroke-width="0.3">PL Intensity</text>
<text x="53.4" y="0" font-size="9.6" fill="#111" font-family='"Liberation Sans", sans-serif' stroke="#111" stroke-width="0.3">(</text>
<text x="60.1" y="0" font-size="9.6" fill="#111" font-family='"Liberation Sans", sans-serif' stroke="#111" stroke-width="0.3">×</text>
<text x="69" y="0" font-size="9.6" fill="#111" font-family='"Liberation Sans", sans-serif' textLength="10.4" lengthAdjust="spacingAndGlyphs" stroke="#111" stroke-width="0.3">10</text>
<text x="79.6" y="-2.8" font-size="6.2" fill="#111" font-family='"Liberation Sans", sans-serif' stroke="#111" stroke-width="0.12">3</text>
<text x="85.7" y="0" font-size="9.6" fill="#111" font-family='"Liberation Sans", sans-serif' textLength="27.9" lengthAdjust="spacingAndGlyphs" stroke="#111" stroke-width="0.3">counts</text>
<text x="117.5" y="0" font-size="9.6" fill="#111" font-family='"Liberation Sans", sans-serif' stroke="#111" stroke-width="0.3">)</text>
</g>
<text x="279.7" y="198.6" font-size="10.5" fill="#111" font-family='"Liberation Serif", serif' textLength="6.1" lengthAdjust="spacingAndGlyphs" stroke="#111" stroke-width="0.3">σ</text>
<text x="286.4" y="195" font-size="7.5" fill="#111" font-family='"Liberation Serif", serif' stroke="#111" stroke-width="0.12">+</text>
<text x="286.2" y="201.1" font-size="7.6" fill="#111" font-family='"Liberation Serif", serif' textLength="19.6" lengthAdjust="spacingAndGlyphs" stroke="#111" stroke-width="0.12">pump</text>
<line x1="352.2" y1="195.6" x2="370.7" y2="195.6" stroke="#ff2020" stroke-width="1.1" />
<line x1="402.5" y1="195.6" x2="421.4" y2="195.6" stroke="#1a1aff" stroke-width="1.1" />
<text x="375.8" y="199.3" font-size="10.5" fill="#111" font-family='"Liberation Serif", serif' textLength="6.1" lengthAdjust="spacingAndGlyphs" stroke="#111" stroke-width="0.3">σ</text>
<text x="382.5" y="195.7" font-size="7.5" fill="#111" font-family='"Liberation Serif", serif' stroke="#111" stroke-width="0.12">+</text>
<text x="382.3" y="201.5" font-size="7.6" fill="#111" font-family='"Liberation Serif", serif' textLength="11" lengthAdjust="spacingAndGlyphs" stroke="#111" stroke-width="0.12">det</text>
<text x="426.4" y="199.3" font-size="10.5" fill="#111" font-family='"Liberation Serif", serif' textLength="6.1" lengthAdjust="spacingAndGlyphs" stroke="#111" stroke-width="0.3">σ</text>
<text x="433.1" y="195.7" font-size="7.5" fill="#111" font-family='"Liberation Serif", serif' stroke="#111" stroke-width="0.12">−</text>
<text x="432.9" y="201.5" font-size="7.6" fill="#111" font-family='"Liberation Serif", serif' textLength="11" lengthAdjust="spacingAndGlyphs" stroke="#111" stroke-width="0.12">det</text>
<text x="276" y="272.2" font-size="10" text-anchor="start" font-weight="normal" fill="#111" font-family='"Liberation Sans", sans-serif'  stroke="#111" stroke-width="0.3">-0.5 T</text>
<text x="350" y="271.5" font-size="10" text-anchor="start" font-weight="normal" fill="#111" font-family='"Liberation Sans", sans-serif'  stroke="#111" stroke-width="0.3">0 T</text>
<text x="403.4" y="272.2" font-size="10" text-anchor="start" font-weight="normal" fill="#111" font-family='"Liberation Sans", sans-serif'  stroke="#111" stroke-width="0.3">0.5 T</text>
<g>
<polyline points="285.4,311.37 285.5,311.44 285.6,311.66 285.7,311.39 285.8,311.41 285.9,311.46 286,311.23 286.1,311.42 286.2,311.5 286.3,311.6 286.4,311.18 286.5,311.31 286.6,311.18 286.7,311.62 286.8,311.55 286.9,311.16 287,311.73 287.1,311.72 287.2,311.54 287.3,311.52 287.4,311.24 287.5,311.16 287.6,311.47 287.7,311.19 287.8,311.27 287.9,311.31 288,311.18 288.1,311.45 288.2,311.43 288.3,311.68 288.4,311.49 288.5,311.56 288.6,311.48 288.7,311.58 288.8,311.46 288.9,311.35 289,311.79 289.1,311.79 289.2,311.7 289.3,311.62 289.4,311.39 289.5,311.34 289.6,311.38 289.7,311.25 289.8,311.67 289.9,311.45 290,311.72 290.1,311.45 290.2,311.79 290.3,311.73 290.4,311.22 290.5,311.35 290.6,311.77 290.7,311.51 290.8,311.82 290.9,311.47 291,311.28 291.1,311.62 291.2,311.71 291.3,311.41 291.4,311.3 291.5,311.45 291.6,311.83 291.7,311.71 291.8,311.33 291.9,311.41 292,311.32 292.1,311.3 292.2,311.75 292.3,311.38 292.4,311.61 292.5,311.54 292.6,311.39 292.7,311.72 292.8,311.36 292.9,311.67 293,311.36 293.1,311.54 293.2,311.42 293.3,311.46 293.4,311.88 293.5,311.78 293.6,311.49 293.7,311.84 293.8,311.43 293.9,311.55 294,311.83 294.1,311.7 294.2,311.38 294.3,311.91 294.4,311.45 294.5,311.48 294.6,311.79 294.7,311.53 294.8,311.51 294.9,311.38 295,311.39 295.1,311.68 295.2,311.48 295.3,311.69 295.4,311.56 295.5,311.6 295.6,311.9 295.7,311.61 295.8,311.66 295.9,311.82 296,311.4 296.1,311.37 296.2,311.8 296.3,311.72 296.4,311.35 296.5,311.28 296.6,311.56 296.7,311.63 296.8,311.13 296.9,311.51 297,311.39 297.1,311.13 297.2,310.92 297.3,310.61 297.4,310.45 297.5,310.86 297.6,310.28 297.7,310.4 297.8,309.96 297.9,310.12 298,309.8 298.1,309.42 298.2,309.16 298.3,309.29 298.4,308.71 298.5,308.62 298.6,308.64 298.7,308.65 298.8,308.36 298.9,308.03 299,308.3 299.1,307.78 299.2,307.61 299.3,307.72 299.4,307.81 299.5,307.6 299.6,307.71 299.7,307.9 299.8,308.11 299.9,307.96 300,308.24 300.1,308.71 300.2,308.93 300.3,308.92 300.4,309.13 300.5,309.26 300.6,309.19 300.7,309.33 300.8,309.52 300.9,310.24 301,310.3 301.1,310.64 301.2,310.24 301.3,310.76 301.4,310.81 301.5,311.09 301.6,310.97 301.7,311.48 301.8,311.02 301.9,311.39 302,311.58 302.1,311.74 302.2,311.7 302.3,311.73 302.4,311.82 302.5,311.93 302.6,311.62 302.7,311.83 302.8,311.97 302.9,311.95 303,311.65 303.1,311.82 303.2,311.78 303.3,311.48 303.4,311.31 303.5,310.9 303.6,310.67 303.7,310.23 303.8,309.38 303.9,309.09 304,308.62 304.1,307.86 304.2,307.09 304.3,306.28 304.4,306.02 304.5,305.63 304.6,305.44 304.7,305.79 304.8,305.64 304.9,306.52 305,306.69 305.1,307.71 305.2,308.35 305.3,308.88 305.4,309.79 305.5,310.22 305.6,310.74 305.7,311.27 305.8,311.12 305.9,311.12 306,311.29 306.1,311.29 306.2,310.44 306.3,309.27 306.4,307.65 306.5,304.14 306.6,298.91 306.7,292.08 306.8,282.6 306.9,272.09 307,260.47 307.1,250.03 307.2,242.01 307.3,237.55 307.4,237.5 307.5,241.69 307.6,249.99 307.7,260.31 307.8,271.4 307.9,282.13 308,291.17 308.1,297.89 308.2,302.36 308.3,305.18 308.4,305.99 308.5,306.09 308.6,305.7 308.7,304.6 308.8,303.32 308.9,302.12 309,300.97 309.1,299.77 309.2,298.77 309.3,298.51 309.4,298.37 309.5,298.19 309.6,298.45 309.7,299.21 309.8,300.72 309.9,301.37 310,302.96 310.1,304.03 310.2,304.92 310.3,306.09 310.4,306.32 310.5,306.89 310.6,307.4 310.7,307.3 310.8,307.83 310.9,307.45 311,307.32 311.1,307.2 311.2,307.51 311.3,307.42 311.4,307.61 311.5,307.79 311.6,308.11 311.7,308.5 311.8,308.67 311.9,308.76 312,309.31 312.1,309.53 312.2,309.8 312.3,310.43 312.4,310.89 312.5,310.84 312.6,311.13 312.7,311.37 312.8,311.74 312.9,311.76 313,311.92 313.1,312.07 313.2,311.91 313.3,312.19 313.4,312.28 313.5,311.8 313.6,312.31 313.7,312.18 313.8,311.8 313.9,311.95 314,311.98 314.1,312.04 314.2,311.56 314.3,311.45 314.4,311.35 314.5,310.94 314.6,310.58 314.7,309.79 314.8,309.35 314.9,308.51 315,308.27 315.1,307.84 315.2,307.36 315.3,307.16 315.4,306.77 315.5,307.27 315.6,307.57 315.7,307.96 315.8,308.18 315.9,308.89 316,309.18 316.1,310.09 316.2,310.57 316.3,310.71 316.4,310.92 316.5,311.43 316.6,311.72 316.7,312.02 316.8,311.96 316.9,311.77 317,312.28 317.1,311.87 317.2,312.32 317.3,311.95 317.4,312.03 317.5,312.28 317.6,311.86 317.7,311.83 317.8,311.99 317.9,312.04 318,312.02 318.1,311.83 318.2,311.87 318.3,311.48 318.4,311.64 318.5,311.01 318.6,311 318.7,311.11 318.8,310.92 318.9,311.17 319,311.13 319.1,311.11 319.2,311.38 319.3,311.31 319.4,311.28 319.5,311.44 319.6,311.85 319.7,312 319.8,311.69 319.9,312.17 320,312.31 320.1,312.11 320.2,312.19 320.3,312.01 320.4,312.24 320.5,312.24 320.6,312.31 320.7,311.98 320.8,312.55 320.9,312.28 321,312.22 321.1,312.46 321.2,312.32 321.3,312.28 321.4,312.41 321.5,312.03 321.6,312.32 321.7,312.25 321.8,312.58 321.9,312.56 322,312.17 322.1,312.29 322.2,312.09 322.3,312.27 322.4,312.51 322.5,312.56 322.6,312.31 322.7,312.21 322.8,312.14 322.9,312.4 323,312.59 323.1,312.11 323.2,312.5 323.3,312.05 323.4,312.16 323.5,312.18 323.6,312.46 323.7,312.24 323.8,312.26 323.9,312.42 324,312.12 324.1,312.5 324.2,312.13 324.3,312.37 324.4,312.22 324.5,312.19 324.6,312.39 324.7,312.33 324.8,312.3 324.9,312.33 325,312.4 325.1,312.18 325.2,312.21 325.3,312.47 325.4,312.47 325.5,312.41 325.6,312.61 325.7,312.46" stroke="#ff2020" stroke-width="1.2" fill="none" stroke-linejoin="round" />
<polyline points="285.4,311.4 285.5,311.44 285.6,311.59 285.7,311.3 285.8,311.3 285.9,311.53 286,311.41 286.1,311.33 286.2,311.36 286.3,311.32 286.4,311.23 286.5,311.51 286.6,311.67 286.7,311.55 286.8,311.52 286.9,311.34 287,311.4 287.1,311.23 287.2,311.58 287.3,311.32 287.4,311.32 287.5,311.74 287.6,311.36 287.7,311.74 287.8,311.53 287.9,311.62 288,311.54 288.1,311.27 288.2,311.6 288.3,311.33 288.4,311.42 288.5,311.26 288.6,311.21 288.7,311.4 288.8,311.19 288.9,311.42 289,311.7 289.1,311.79 289.2,311.45 289.3,311.26 289.4,311.41 289.5,311.24 289.6,311.33 289.7,311.58 289.8,311.58 289.9,311.23 290,311.51 290.1,311.47 290.2,311.46 290.3,311.3 290.4,311.46 290.5,311.29 290.6,311.64 290.7,311.62 290.8,311.61 290.9,311.48 291,311.81 291.1,311.46 291.2,311.37 291.3,311.47 291.4,311.8 291.5,311.35 291.6,311.71 291.7,311.82 291.8,311.77 291.9,311.54 292,311.53 292.1,311.79 292.2,311.69 292.3,311.75 292.4,311.38 292.5,311.64 292.6,311.72 292.7,311.42 292.8,311.41 292.9,311.79 293,311.63 293.1,311.54 293.2,311.58 293.3,311.45 293.4,311.45 293.5,311.36 293.6,311.54 293.7,311.39 293.8,311.85 293.9,311.88 294,311.67 294.1,311.37 294.2,311.68 294.3,311.41 294.4,311.55 294.5,311.4 294.6,311.63 294.7,311.37 294.8,311.5 294.9,311.47 295,311.62 295.1,311.9 295.2,311.69 295.3,311.81 295.4,311.78 295.5,311.66 295.6,311.39 295.7,311.38 295.8,311.43 295.9,311.66 296,311.55 296.1,311.9 296.2,311.46 296.3,311.41 296.4,311.71 296.5,311.68 296.6,311.34 296.7,311.5 296.8,311.55 296.9,311.75 297,311.71 297.1,311.74 297.2,311.51 297.3,311.72 297.4,311.4 297.5,311.25 297.6,311.11 297.7,311.48 297.8,311.32 297.9,311.24 298,311.4 298.1,311.14 298.2,310.88 298.3,311.05 298.4,311.12 298.5,310.61 298.6,311.01 298.7,310.64 298.8,310.4 298.9,310.59 299,310.71 299.1,310.5 299.2,310.34 299.3,310.62 299.4,310.21 299.5,310.55 299.6,310.37 299.7,310.54 299.8,310.5 299.9,310.4 300,310.39 300.1,310.81 300.2,310.64 300.3,310.6 300.4,310.85 300.5,311.02 300.6,310.68 300.7,310.97 300.8,310.85 300.9,311.29 301,310.92 301.1,311.45 301.2,311.35 301.3,311.38 301.4,311.45 301.5,311.34 301.6,311.49 301.7,311.36 301.8,311.51 301.9,311.69 302,311.73 302.1,311.58 302.2,311.77 302.3,311.88 302.4,311.87 302.5,311.39 302.6,311.65 302.7,311.38 302.8,311.66 302.9,311.35 303,311.04 303.1,310.84 303.2,310.39 303.3,309.75 303.4,309.64 303.5,308.54 303.6,307.93 303.7,307.5 303.8,306.9 303.9,306.63 304,306.52 304.1,306.3 304.2,306.74 304.3,306.62 304.4,307.39 304.5,307.94 304.6,308.27 304.7,309.03 304.8,309.18 304.9,310.23 305,310.41 305.1,310.74 305.2,311.4 305.3,311.32 305.4,311.31 305.5,311.4 305.6,311.94 305.7,311.61 305.8,311.89 305.9,311.5 306,311.78 306.1,311.52 306.2,310.46 306.3,309.45 306.4,307.38 306.5,303.63 306.6,298.91 306.7,292.71 306.8,284.68 306.9,275.51 307,266.58 307.1,258.58 307.2,253.83 307.3,252.02 307.4,253.58 307.5,258.52 307.6,266.01 307.7,275.07 307.8,283.83 307.9,291.51 308,297.85 308.1,301.86 308.2,304.79 308.3,306.57 308.4,307.57 308.5,307.76 308.6,307.96 308.7,307.93 308.8,308.31 308.9,308.24 309,308.24 309.1,308.71 309.2,308.86 309.3,309.77 309.4,309.65 309.5,310.15 309.6,310.72 309.7,311.24 309.8,311.37 309.9,311.27 310,311.72 310.1,311.92 310.2,312.12 310.3,312.01 310.4,311.81 310.5,312.18 310.6,312.12 310.7,312.24 310.8,311.83 310.9,312.21 311,311.98 311.1,311.8 311.2,311.77 311.3,311.6 311.4,311.97 311.5,311.35 311.6,311.41 311.7,310.85 311.8,310.41 311.9,309.92 312,309.52 312.1,308.23 312.2,307.48 312.3,306.39 312.4,305.39 312.5,304.37 312.6,303.48 312.7,302.45 312.8,301.88 312.9,301.46 313,301.27 313.1,300.95 313.2,301.42 313.3,302.4 313.4,303.1 313.5,304.24 313.6,305.44 313.7,306.55 313.8,307.73 313.9,308.68 314,309.16 314.1,310.05 314.2,310.51 314.3,310.87 314.4,311.28 314.5,311.39 314.6,311.38 314.7,311.08 314.8,310.7 314.9,310.74 315,310.24 315.1,309.96 315.2,309.55 315.3,309.29 315.4,309.36 315.5,309.62 315.6,309.47 315.7,309.42 315.8,310.08 315.9,309.94 316,310.56 316.1,310.54 316.2,311.39 316.3,311.63 316.4,311.82 316.5,311.72 316.6,311.89 316.7,312.01 316.8,312.33 316.9,312.17 317,311.99 317.1,312.4 317.2,312.12 317.3,312.3 317.4,312.42 317.5,312.3 317.6,311.89 317.7,312.28 317.8,312.02 317.9,312.3 318,311.87 318.1,311.69 318.2,311.58 318.3,312.03 318.4,311.61 318.5,311.29 318.6,311.52 318.7,311.74 318.8,311.26 318.9,311.69 319,311.74 319.1,311.3 319.2,311.36 319.3,311.39 319.4,311.44 319.5,311.46 319.6,311.67 319.7,312.1 319.8,311.95 319.9,312 320,312.18 320.1,311.93 320.2,312.35 320.3,312.06 320.4,312.24 320.5,312.08 320.6,312.11 320.7,312.05 320.8,312.21 320.9,312.24 321,312.04 321.1,312.48 321.2,312.19 321.3,312.39 321.4,312.11 321.5,312.02 321.6,312.58 321.7,312.14 321.8,312.01 321.9,312.56 322,312.26 322.1,312.01 322.2,312.39 322.3,312.22 322.4,312.6 322.5,312.51 322.6,312.42 322.7,312.44 322.8,312.22 322.9,312.58 323,312.59 323.1,312.18 323.2,312.07 323.3,312.08 323.4,312.36 323.5,312.41 323.6,312.53 323.7,312.59 323.8,312.28 323.9,312.32 324,312.29 324.1,312.6 324.2,312.19 324.3,312.14 324.4,312.18 324.5,312.62 324.6,312.17 324.7,312.67 324.8,312.22 324.9,312.3 325,312.19 325.1,312.67 325.2,312.13 325.3,312.18 325.4,312.51 325.5,312.38 325.6,312.33 325.7,312.37" stroke="#1a1aff" stroke-width="1.2" fill="none" stroke-linejoin="round" />
<polyline points="347.9,311.38 348,311.5 348.1,311.5 348.2,311.19 348.3,311.12 348.4,311.34 348.5,311.28 348.6,311.6 348.7,311.53 348.8,311.48 348.9,311.46 349,311.52 349.1,311.22 349.2,311.4 349.3,311.23 349.4,311.68 349.5,311.18 349.6,311.63 349.7,311.19 349.8,311.56 349.9,311.35 350,311.4 350.1,311.66 350.2,311.17 350.3,311.2 350.4,311.71 350.5,311.47 350.6,311.22 350.7,311.76 350.8,311.74 350.9,311.24 351,311.43 351.1,311.26 351.2,311.37 351.3,311.56 351.4,311.29 351.5,311.61 351.6,311.22 351.7,311.3 351.8,311.69 351.9,311.44 352,311.45 352.1,311.56 352.2,311.49 352.3,311.44 352.4,311.23 352.5,311.65 352.6,311.8 352.7,311.81 352.8,311.62 352.9,311.44 353,311.45 353.1,311.64 353.2,311.64 353.3,311.3 353.4,311.38 353.5,311.46 353.6,311.55 353.7,311.73 353.8,311.55 353.9,311.27 354,311.75 354.1,311.51 354.2,311.57 354.3,311.39 354.4,311.52 354.5,311.5 354.6,311.73 354.7,311.33 354.8,311.6 354.9,311.38 355,311.69 355.1,311.3 355.2,311.45 355.3,311.49 355.4,311.66 355.5,311.32 355.6,311.56 355.7,311.41 355.8,311.46 355.9,311.57 356,311.86 356.1,311.58 356.2,311.86 356.3,311.39 356.4,311.84 356.5,311.5 356.6,311.4 356.7,311.73 356.8,311.82 356.9,311.27 357,311.43 357.1,311.72 357.2,311.45 357.3,311.39 357.4,311.23 357.5,311.24 357.6,311.58 357.7,311.78 357.8,311.77 357.9,311.45 358,311.14 358.1,311.3 358.2,311.55 358.3,311.55 358.4,311.4 358.5,311.12 358.6,311.27 358.7,311.2 358.8,311.24 358.9,310.98 359,311.34 359.1,311.26 359.2,310.76 359.3,310.78 359.4,311.07 359.5,310.65 359.6,310.98 359.7,310.65 359.8,310.69 359.9,310.62 360,310.25 360.1,310.21 360.2,310.12 360.3,310.29 360.4,310.22 360.5,309.8 360.6,310.17 360.7,309.81 360.8,309.62 360.9,309.65 361,309.9 361.1,309.58 361.2,309.54 361.3,309.65 361.4,309.61 361.5,309.43 361.6,309.16 361.7,309.21 361.8,309.36 361.9,309.25 362,309.09 362.1,308.92 362.2,308.91 362.3,309.12 362.4,309 362.5,308.68 362.6,309.1 362.7,309.23 362.8,309.18 362.9,309.27 363,309.31 363.1,309.13 363.2,309.32 363.3,309.13 363.4,309.02 363.5,309.23 363.6,309.27 363.7,309.72 363.8,309.64 363.9,309.63 364,309.76 364.1,309.54 364.2,309.87 364.3,310.04 364.4,309.93 364.5,309.89 364.6,310.02 364.7,309.97 364.8,310.14 364.9,309.71 365,309.49 365.1,309.32 365.2,309.14 365.3,308.63 365.4,307.9 365.5,307.28 365.6,306.07 365.7,304.96 365.8,304.37 365.9,303.57 366,302.82 366.1,302.75 366.2,302.46 366.3,302.59 366.4,303.1 366.5,304.17 366.6,304.48 366.7,305.66 366.8,306.61 366.9,307.53 367,308.56 367.1,309.21 367.2,310.27 367.3,310.54 367.4,311.05 367.5,311.03 367.6,311.42 367.7,311.64 367.8,311.86 367.9,311.53 368,311.59 368.1,311.61 368.2,311.1 368.3,309.75 368.4,308.13 368.5,305.22 368.6,300.23 368.7,293.47 368.8,284.18 368.9,272.95 369,259.96 369.1,247.33 369.2,236.19 369.3,228.98 369.4,226.08 369.5,228.8 369.6,236.1 369.7,246.93 369.8,259.42 369.9,272.04 370,283.4 370.1,292.17 370.2,298.53 370.3,303.18 370.4,305.2 370.5,306.54 370.6,306.35 370.7,305.65 370.8,305.03 370.9,304.01 371,302.63 371.1,301.6 371.2,301.19 371.3,300.85 371.4,300.55 371.5,300.82 371.6,301.06 371.7,301.92 371.8,302.65 371.9,303.82 372,304.96 372.1,306.11 372.2,307.22 372.3,308.46 372.4,308.94 372.5,309.68 372.6,310.28 372.7,311.15 372.8,311.18 372.9,311.09 373,311.64 373.1,311.63 373.2,311.47 373.3,310.96 373.4,310.83 373.5,310.12 373.6,309.45 373.7,309.23 373.8,308.49 373.9,307.38 374,307.06 374.1,305.91 374.2,305.58 374.3,305.08 374.4,305.07 374.5,305.18 374.6,305.83 374.7,306.09 374.8,306.67 374.9,307.39 375,308.22 375.1,309.27 375.2,309.79 375.3,310.06 375.4,310.89 375.5,311.18 375.6,311.41 375.7,311.65 375.8,311.85 375.9,311.99 376,311.8 376.1,311.81 376.2,311.57 376.3,311.46 376.4,311.02 376.5,310.67 376.6,310.29 376.7,309.89 376.8,309.07 376.9,308.88 377,308.06 377.1,307.78 377.2,307.29 377.3,307.2 377.4,306.95 377.5,306.88 377.6,307.13 377.7,307.64 377.8,308.23 377.9,308.85 378,309.01 378.1,309.53 378.2,310.08 378.3,310.52 378.4,310.87 378.5,311.14 378.6,311.51 378.7,311.58 378.8,312.03 378.9,312.04 379,312.27 379.1,312.26 379.2,312.11 379.3,312.18 379.4,311.57 379.5,311.62 379.6,311.96 379.7,311.62 379.8,311.38 379.9,311.65 380,311.4 380.1,311.44 380.2,311.3 380.3,311.27 380.4,311.21 380.5,311.58 380.6,311.85 380.7,311.95 380.8,311.9 380.9,312.08 381,311.82 381.1,311.85 381.2,312.29 381.3,312.15 381.4,312.23 381.5,311.87 381.6,312.03 381.7,312.2 381.8,312.37 381.9,312.43 382,312.4 382.1,312.16 382.2,312.19 382.3,312.48 382.4,312.56 382.5,312.26 382.6,312.09 382.7,312.35 382.8,312.3 382.9,312.19 383,312.12 383.1,312.21 383.2,312.35 383.3,312.06 383.4,312.31 383.5,312.56 383.6,312.44 383.7,312.15 383.8,312.25 383.9,312.06 384,312.45 384.1,312.39 384.2,312.11 384.3,312.34 384.4,312.37 384.5,312.36 384.6,312.25 384.7,312.21 384.8,312.24 384.9,312.63 385,312.23 385.1,312.33 385.2,312.31 385.3,312.14 385.4,312.28 385.5,312.17 385.6,312.24 385.7,312.27 385.8,312.26 385.9,312.62 386,312.23 386.1,312.26 386.2,312.45 386.3,312.3 386.4,312.37 386.5,312.46 386.6,312.11 386.7,312.48 386.8,312.14 386.9,312.23 387,312.57 387.1,312.68 387.2,312.49 387.3,312.19 387.4,312.35 387.5,312.26 387.6,312.6 387.7,312.24" stroke="#ff2020" stroke-width="1.2" fill="none" stroke-linejoin="round" />
<polyline points="347.9,311.66 348,311.21 348.1,311.69 348.2,311.25 348.3,311.39 348.4,311.65 348.5,311.33 348.6,311.42 348.7,311.22 348.8,311.7 348.9,311.72 349,311.23 349.1,311.2 349.2,311.42 349.3,311.45 349.4,311.6 349.5,311.35 349.6,311.5 349.7,311.24 349.8,311.28 349.9,311.2 350,311.48 350.1,311.49 350.2,311.53 350.3,311.72 350.4,311.35 350.5,311.37 350.6,311.45 350.7,311.74 350.8,311.36 350.9,311.35 351,311.43 351.1,311.59 351.2,311.35 351.3,311.29 351.4,311.63 351.5,311.54 351.6,311.54 351.7,311.2 351.8,311.35 351.9,311.26 352,311.42 352.1,311.75 352.2,311.8 352.3,311.72 352.4,311.43 352.5,311.55 352.6,311.76 352.7,311.43 352.8,311.46 352.9,311.65 353,311.43 353.1,311.51 353.2,311.45 353.3,311.73 353.4,311.55 353.5,311.3 353.6,311.25 353.7,311.63 353.8,311.32 353.9,311.65 354,311.39 354.1,311.57 354.2,311.46 354.3,311.65 354.4,311.34 354.5,311.51 354.6,311.66 354.7,311.43 354.8,311.87 354.9,311.87 355,311.86 355.1,311.84 355.2,311.84 355.3,311.62 355.4,311.79 355.5,311.53 355.6,311.33 355.7,311.84 355.8,311.84 355.9,311.45 356,311.52 356.1,311.43 356.2,311.72 356.3,311.39 356.4,311.78 356.5,311.31 356.6,311.53 356.7,311.76 356.8,311.58 356.9,311.36 357,311.3 357.1,311.68 357.2,311.31 357.3,311.43 357.4,311.61 357.5,311.43 357.6,311.26 357.7,311.7 357.8,311.64 357.9,311.56 358,311.24 358.1,311.45 358.2,311.72 358.3,311.43 358.4,311.25 358.5,311.63 358.6,311.25 358.7,311.32 358.8,311.07 358.9,311.46 359,311.31 359.1,311.18 359.2,311.12 359.3,310.98 359.4,311 359.5,310.98 359.6,310.64 359.7,311 359.8,310.97 359.9,310.47 360,310.48 360.1,310.76 360.2,310.48 360.3,310.29 360.4,310.56 360.5,310.67 360.6,310.23 360.7,310.31 360.8,310.22 360.9,310.16 361,310.13 361.1,310.26 361.2,310.17 361.3,310.13 361.4,309.96 361.5,309.96 361.6,309.91 361.7,309.86 361.8,309.79 361.9,309.8 362,309.36 362.1,309.4 362.2,309.67 362.3,309.53 362.4,309.4 362.5,309.65 362.6,309.39 362.7,309.74 362.8,309.49 362.9,309.87 363,309.54 363.1,309.96 363.2,309.61 363.3,309.92 363.4,309.58 363.5,309.85 363.6,309.82 363.7,310.17 363.8,310.14 363.9,310.12 364,309.91 364.1,310.21 364.2,310.1 364.3,310.08 364.4,310.49 364.5,310.44 364.6,310.75 364.7,310.68 364.8,310.21 364.9,310.74 365,310.47 365.1,310.69 365.2,310.22 365.3,310.23 365.4,310.28 365.5,309.92 365.6,309.92 365.7,309.81 365.8,309.77 365.9,309.88 366,309.88 366.1,310.17 366.2,309.89 366.3,310.02 366.4,310.21 366.5,310.21 366.6,310.59 366.7,310.78 366.8,310.8 366.9,311.2 367,311.08 367.1,311.62 367.2,311.81 367.3,311.68 367.4,311.5 367.5,311.52 367.6,311.5 367.7,311.59 367.8,311.99 367.9,311.9 368,311.84 368.1,311.29 368.2,310.9 368.3,310.06 368.4,308.46 368.5,306 368.6,302.06 368.7,297.85 368.8,291.72 368.9,284.97 369,278.45 369.1,273.07 369.2,269.33 369.3,267.44 369.4,268.89 369.5,272.6 369.6,278.57 369.7,285.04 369.8,291.53 369.9,297.03 370,301.79 370.1,305.42 370.2,307.29 370.3,308.48 370.4,309.08 370.5,309.62 370.6,309.25 370.7,309.41 370.8,309.25 370.9,309.34 371,308.94 371.1,309.24 371.2,309.85 371.3,309.83 371.4,309.85 371.5,310.08 371.6,310.28 371.7,310.62 371.8,310.36 371.9,310.07 372,309.91 372.1,309.91 372.2,309.5 372.3,309.02 372.4,308.61 372.5,308.32 372.6,308.27 372.7,308.8 372.8,308.83 372.9,308.75 373,309.55 373.1,309.99 373.2,309.96 373.3,310.47 373.4,310.22 373.5,310.17 373.6,309.99 373.7,309.68 373.8,309.1 373.9,308.44 374,307.74 374.1,307.3 374.2,307 374.3,306.88 374.4,306.68 374.5,306.68 374.6,306.93 374.7,307.27 374.8,308.2 374.9,308.92 375,309.31 375.1,310.17 375.2,310.76 375.3,310.91 375.4,311.04 375.5,311.79 375.6,311.77 375.7,311.61 375.8,311.99 375.9,312.01 376,311.97 376.1,311.91 376.2,311.73 376.3,311.28 376.4,311.6 376.5,311.24 376.6,311.12 376.7,310.68 376.8,310.56 376.9,310.26 377,310.32 377.1,309.89 377.2,310.07 377.3,310.45 377.4,310.38 377.5,310.71 377.6,310.84 377.7,311.34 377.8,311.17 377.9,311.47 378,311.5 378.1,311.63 378.2,311.92 378.3,312.31 378.4,311.89 378.5,312.18 378.6,312.27 378.7,312.25 378.8,311.84 378.9,311.81 379,312.21 379.1,311.87 379.2,312.15 379.3,312.02 379.4,312.14 379.5,311.72 379.6,311.89 379.7,311.42 379.8,311.42 379.9,311.42 380,311.37 380.1,311.44 380.2,311.28 380.3,311.2 380.4,311.44 380.5,311.51 380.6,311.77 380.7,311.7 380.8,311.72 380.9,311.65 381,312.04 381.1,312.2 381.2,311.77 381.3,311.96 381.4,312.28 381.5,312.01 381.6,311.93 381.7,312.05 381.8,312.51 381.9,312.03 382,312.01 382.1,312.36 382.2,312.05 382.3,312.45 382.4,312.13 382.5,312.25 382.6,312.27 382.7,312.51 382.8,312.53 382.9,312.11 383,312.16 383.1,312.04 383.2,312.08 383.3,312.5 383.4,312.14 383.5,312.31 383.6,312.33 383.7,312.17 383.8,312.04 383.9,312 384,312.16 384.1,312.53 384.2,312.15 384.3,312.18 384.4,312.58 384.5,312.56 384.6,312.06 384.7,312.48 384.8,312.29 384.9,312.29 385,312.52 385.1,312.04 385.2,312.35 385.3,312.56 385.4,312.62 385.5,312.52 385.6,312.35 385.7,312.21 385.8,312.63 385.9,312.05 386,312.12 386.1,312.23 386.2,312.64 386.3,312.3 386.4,312.59 386.5,312.11 386.6,312.24 386.7,312.24 386.8,312.08 386.9,312.54 387,312.55 387.1,312.45 387.2,312.28 387.3,312.48 387.4,312.52 387.5,312.27 387.6,312.36 387.7,312.1" stroke="#1a1aff" stroke-width="1.2" fill="none" stroke-linejoin="round" />
<polyline points="410.1,311.26 410.2,311.51 410.3,311.52 410.4,311.62 410.5,311.22 410.6,311.25 410.7,311.2 410.8,311.25 410.9,311.56 411,311.2 411.1,311.44 411.2,311.26 411.3,311.31 411.4,311.39 411.5,311.64 411.6,311.5 411.7,311.15 411.8,311.31 411.9,311.23 412,311.67 412.1,311.64 412.2,311.64 412.3,311.65 412.4,311.6 412.5,311.73 412.6,311.64 412.7,311.32 412.8,311.68 412.9,311.46 413,311.63 413.1,311.51 413.2,311.44 413.3,311.4 413.4,311.44 413.5,311.37 413.6,311.26 413.7,311.68 413.8,311.67 413.9,311.79 414,311.61 414.1,311.53 414.2,311.65 414.3,311.29 414.4,311.61 414.5,311.48 414.6,311.32 414.7,311.34 414.8,311.53 414.9,311.37 415,311.5 415.1,311.59 415.2,311.47 415.3,311.31 415.4,311.53 415.5,311.38 415.6,311.38 415.7,311.36 415.8,311.46 415.9,311.29 416,311.64 416.1,311.82 416.2,311.49 416.3,311.69 416.4,311.82 416.5,311.29 416.6,311.35 416.7,311.75 416.8,311.77 416.9,311.65 417,311.37 417.1,311.52 417.2,311.8 417.3,311.81 417.4,311.77 417.5,311.41 417.6,311.8 417.7,311.52 417.8,311.72 417.9,311.38 418,311.88 418.1,311.66 418.2,311.74 418.3,311.43 418.4,311.68 418.5,311.66 418.6,311.67 418.7,311.53 418.8,311.76 418.9,311.53 419,311.5 419.1,311.43 419.2,311.74 419.3,311.4 419.4,311.47 419.5,311.38 419.6,311.73 419.7,311.68 419.8,311.67 419.9,311.37 420,311.61 420.1,311.56 420.2,311.41 420.3,311.36 420.4,311.95 420.5,311.43 420.6,311.54 420.7,311.52 420.8,311.71 420.9,311.4 421,311.62 421.1,311.55 421.2,311.81 421.3,311.29 421.4,311.46 421.5,311.51 421.6,311.74 421.7,311.39 421.8,311.27 421.9,311.28 422,310.92 422.1,310.61 422.2,310.73 422.3,310.79 422.4,310.5 422.5,310.02 422.6,310.08 422.7,310 422.8,309.49 422.9,309.55 423,309.31 423.1,309.18 423.2,309.17 423.3,309.12 423.4,309.24 423.5,309.11 423.6,309.39 423.7,309.29 423.8,309.77 423.9,309.75 424,309.46 424.1,309.96 424.2,309.64 424.3,309.81 424.4,309.83 424.5,309.65 424.6,309.56 424.7,309.56 424.8,309.29 424.9,309.61 425,309.04 425.1,309.35 425.2,308.86 425.3,308.78 425.4,308.71 425.5,308.38 425.6,308.32 425.7,308.35 425.8,308.31 425.9,308.48 426,308.48 426.1,307.85 426.2,308.09 426.3,307.82 426.4,308.2 426.5,307.91 426.6,308.26 426.7,308.07 426.8,307.86 426.9,307.84 427,308.06 427.1,308.51 427.2,308.17 427.3,308.47 427.4,308.51 427.5,308.62 427.6,309.02 427.7,308.8 427.8,309.25 427.9,309.36 428,309.66 428.1,309.56 428.2,309.95 428.3,309.8 428.4,310.03 428.5,310.2 428.6,310.46 428.7,310.63 428.8,310.29 428.9,310.42 429,310.78 429.1,311.05 429.2,310.98 429.3,310.94 429.4,311.41 429.5,311.06 429.6,310.93 429.7,310.8 429.8,310.46 429.9,310.15 430,308.36 430.1,306.21 430.2,302.17 430.3,296 430.4,287.15 430.5,275.68 430.6,262.61 430.7,248.78 430.8,235.69 430.9,225.3 431,220.03 431.1,219.65 431.2,225.35 431.3,235.91 431.4,248.63 431.5,262.47 431.6,275.96 431.7,286.97 431.8,295.39 431.9,301.57 432,305.7 432.1,308.08 432.2,309.61 432.3,309.6 432.4,309.91 432.5,309.58 432.6,308.82 432.7,308.61 432.8,307.88 432.9,307.16 433,306.54 433.1,306.28 433.2,306.31 433.3,306.01 433.4,305.89 433.5,306.24 433.6,306.68 433.7,307 433.8,307.8 433.9,308.08 434,309.15 434.1,309.34 434.2,309.81 434.3,310.56 434.4,310.76 434.5,311.4 434.6,311.39 434.7,311.55 434.8,311.82 434.9,311.46 435,311.74 435.1,311.57 435.2,311.27 435.3,311.36 435.4,310.49 435.5,310.63 435.6,309.77 435.7,309.71 435.8,308.81 435.9,308.25 436,308.05 436.1,307.9 436.2,307.18 436.3,307.12 436.4,307.13 436.5,306.98 436.6,307.36 436.7,307.36 436.8,308.04 436.9,308.7 437,308.95 437.1,309.38 437.2,309.75 437.3,310.58 437.4,310.79 437.5,311.39 437.6,311.53 437.7,311.32 437.8,311.93 437.9,312.01 438,311.95 438.1,311.93 438.2,311.76 438.3,311.65 438.4,311.45 438.5,311.18 438.6,310.73 438.7,310.38 438.8,310.44 438.9,310.06 439,309.46 439.1,309.57 439.2,309.36 439.3,309.18 439.4,309.3 439.5,309.41 439.6,309.23 439.7,309.69 439.8,309.75 439.9,310.07 440,310.28 440.1,310.9 440.2,310.89 440.3,311.46 440.4,311.32 440.5,311.71 440.6,312.01 440.7,311.99 440.8,311.9 440.9,311.79 441,312.07 441.1,312.06 441.2,312.32 441.3,312.31 441.4,312.42 441.5,312.09 441.6,312.04 441.7,312.1 441.8,312.16 441.9,311.7 442,311.71 442.1,311.58 442.2,311.6 442.3,311.48 442.4,311.79 442.5,311.24 442.6,311.6 442.7,311.15 442.8,311.06 442.9,311.51 443,311 443.1,311.05 443.2,311.13 443.3,311.18 443.4,311.46 443.5,311.46 443.6,311.53 443.7,311.54 443.8,312.04 443.9,311.73 444,311.91 444.1,312.16 444.2,312.39 444.3,312.29 444.4,312.35 444.5,312.36 444.6,312.43 444.7,312.47 444.8,312.06 444.9,312.01 445,312.35 445.1,312.29 445.2,312.3 445.3,312.46 445.4,312.09 445.5,312.42 445.6,312.25 445.7,312.25 445.8,312.15 445.9,312.17 446,312.35 446.1,312.34 446.2,312.55 446.3,312.18 446.4,312.44 446.5,312.08 446.6,312.41 446.7,312.12 446.8,312.54 446.9,312.61 447,312.18 447.1,312.52 447.2,312.17 447.3,312.22 447.4,312.1 447.5,312.31 447.6,312.11 447.7,312.47 447.8,312.39 447.9,312.3 448,312.48 448.1,312.2 448.2,312.26 448.3,312.28 448.4,312.07 448.5,312.6 448.6,312.12 448.7,312.13 448.8,312.55 448.9,312.57 449,312.35 449.1,312.34 449.2,312.17 449.3,312.09 449.4,312.4 449.5,312.24 449.6,312.19 449.7,312.64" stroke="#ff2020" stroke-width="1.2" fill="none" stroke-linejoin="round" />
<polyline points="410.1,311.37 410.2,311.28 410.3,311.65 410.4,311.4 410.5,311.16 410.6,311.56 410.7,311.16 410.8,311.24 410.9,311.16 411,311.5 411.1,311.63 411.2,311.49 411.3,311.26 411.4,311.64 411.5,311.66 411.6,311.33 411.7,311.3 411.8,311.55 411.9,311.73 412,311.7 412.1,311.68 412.2,311.58 412.3,311.29 412.4,311.53 412.5,311.42 412.6,311.55 412.7,311.46 412.8,311.29 412.9,311.71 413,311.19 413.1,311.38 413.2,311.38 413.3,311.76 413.4,311.25 413.5,311.53 413.6,311.75 413.7,311.56 413.8,311.75 413.9,311.43 414,311.46 414.1,311.42 414.2,311.42 414.3,311.41 414.4,311.25 414.5,311.8 414.6,311.65 414.7,311.62 414.8,311.54 414.9,311.34 415,311.36 415.1,311.81 415.2,311.72 415.3,311.5 415.4,311.68 415.5,311.81 415.6,311.26 415.7,311.46 415.8,311.48 415.9,311.45 416,311.57 416.1,311.43 416.2,311.33 416.3,311.78 416.4,311.51 416.5,311.74 416.6,311.34 416.7,311.45 416.8,311.56 416.9,311.29 417,311.52 417.1,311.38 417.2,311.52 417.3,311.46 417.4,311.75 417.5,311.59 417.6,311.44 417.7,311.65 417.8,311.58 417.9,311.43 418,311.77 418.1,311.65 418.2,311.31 418.3,311.63 418.4,311.55 418.5,311.36 418.6,311.9 418.7,311.69 418.8,311.91 418.9,311.61 419,311.59 419.1,311.42 419.2,311.73 419.3,311.62 419.4,311.44 419.5,311.84 419.6,311.69 419.7,311.39 419.8,311.93 419.9,311.6 420,311.9 420.1,311.6 420.2,311.39 420.3,311.69 420.4,311.6 420.5,311.83 420.6,311.66 420.7,311.59 420.8,311.61 420.9,311.66 421,311.81 421.1,311.85 421.2,311.6 421.3,311.44 421.4,311.34 421.5,311.67 421.6,311.41 421.7,311.72 421.8,311.38 421.9,311.59 422,310.92 422.1,311.2 422.2,310.56 422.3,310.39 422.4,310.23 422.5,309.87 422.6,309.69 422.7,309.46 422.8,309.29 422.9,308.76 423,308.98 423.1,308.8 423.2,308.97 423.3,308.88 423.4,309.35 423.5,309.2 423.6,309.36 423.7,310 423.8,310.19 423.9,310.15 424,310.44 424.1,310.65 424.2,310.64 424.3,310.94 424.4,310.9 424.5,311 424.6,311.1 424.7,310.7 424.8,310.69 424.9,310.84 425,310.71 425.1,310.68 425.2,310.3 425.3,310.15 425.4,309.94 425.5,309.97 425.6,309.83 425.7,310 425.8,309.65 425.9,309.82 426,309.32 426.1,309.34 426.2,309.35 426.3,309.17 426.4,309.27 426.5,309.53 426.6,309.2 426.7,309.04 426.8,309.28 426.9,309.27 427,309.49 427.1,309.1 427.2,309.56 427.3,309.56 427.4,309.46 427.5,309.61 427.6,309.55 427.7,310.16 427.8,309.91 427.9,310.1 428,310.36 428.1,310.54 428.2,310.58 428.3,310.58 428.4,310.84 428.5,310.88 428.6,310.86 428.7,311.27 428.8,310.95 428.9,311.05 429,311.31 429.1,311.4 429.2,311.24 429.3,311.67 429.4,311.85 429.5,311.65 429.6,311.66 429.7,311.42 429.8,311.17 429.9,310.96 430,310.55 430.1,309.54 430.2,307.52 430.3,304.99 430.4,301.61 430.5,297.57 430.6,292.76 430.7,288.27 430.8,284.47 430.9,281.36 431,280.7 431.1,281.43 431.2,284.07 431.3,288.17 431.4,292.88 431.5,297.31 431.6,301.31 431.7,304.62 431.8,306.76 431.9,308.26 432,308.89 432.1,308.79 432.2,308.13 432.3,307.01 432.4,306.17 432.5,305 432.6,304.07 432.7,302.85 432.8,302.59 432.9,301.69 433,301.54 433.1,302.08 433.2,302.29 433.3,302.83 433.4,303.85 433.5,305.25 433.6,306.02 433.7,307.54 433.8,308.19 433.9,309.05 434,310.04 434.1,310.41 434.2,310.76 434.3,311.4 434.4,311.39 434.5,311.7 434.6,312.09 434.7,312.06 434.8,312.06 434.9,311.75 435,311.7 435.1,311.36 435.2,311.25 435.3,310.96 435.4,309.86 435.5,309.12 435.6,308.54 435.7,307.65 435.8,306.6 435.9,305.26 436,304.17 436.1,303.38 436.2,302.88 436.3,302.17 436.4,302.22 436.5,302.21 436.6,302.9 436.7,303.22 436.8,304.48 436.9,305.32 437,306.5 437.1,307.37 437.2,308.72 437.3,309.45 437.4,310.25 437.5,310.69 437.6,310.9 437.7,311.56 437.8,311.36 437.9,311.57 438,311.75 438.1,311.94 438.2,311.68 438.3,311.63 438.4,311.58 438.5,311.26 438.6,310.53 438.7,310.26 438.8,309.69 438.9,309.68 439,309.08 439.1,308.73 439.2,308.16 439.3,308.15 439.4,308.02 439.5,308.49 439.6,308.29 439.7,308.96 439.8,308.92 439.9,309.63 440,309.82 440.1,310.23 440.2,310.64 440.3,311.38 440.4,311.47 440.5,311.48 440.6,311.71 440.7,311.99 440.8,311.99 440.9,312.15 441,311.84 441.1,312.05 441.2,311.98 441.3,312.26 441.4,312.36 441.5,311.86 441.6,312.01 441.7,312.36 441.8,312.25 441.9,311.68 442,311.87 442.1,311.87 442.2,311.67 442.3,311.71 442.4,311.55 442.5,311.38 442.6,311.26 442.7,311.04 442.8,311.49 442.9,311.11 443,311.05 443.1,311.41 443.2,311.12 443.3,311.52 443.4,311.68 443.5,311.46 443.6,311.91 443.7,312.07 443.8,311.9 443.9,311.93 444,312.25 444.1,312.23 444.2,312.42 444.3,312.14 444.4,312.48 444.5,312.18 444.6,312.41 444.7,312.13 444.8,312.1 444.9,312.07 445,312.53 445.1,312.43 445.2,312.54 445.3,312.34 445.4,312.01 445.5,312.33 445.6,312.32 445.7,312.2 445.8,312.41 445.9,312.59 446,312.34 446.1,312.2 446.2,312.04 446.3,312.56 446.4,312.41 446.5,312.17 446.6,312.5 446.7,312.17 446.8,312.25 446.9,312.35 447,312.6 447.1,312.53 447.2,312.39 447.3,312.36 447.4,312.24 447.5,312.46 447.6,312.36 447.7,312.46 447.8,312.14 447.9,312.26 448,312.63 448.1,312.46 448.2,312.56 448.3,312.48 448.4,312.32 448.5,312.15 448.6,312.07 448.7,312.58 448.8,312.46 448.9,312.53 449,312.31 449.1,312.43 449.2,312.1 449.3,312.59 449.4,312.3 449.5,312.31 449.6,312.11 449.7,312.3" stroke="#1a1aff" stroke-width="1.2" fill="none" stroke-linejoin="round" />
</g>
<text x="469.8" y="190" font-size="14" text-anchor="start" font-weight="bold" fill="#000" font-family='"Liberation Sans", sans-serif'  stroke="#000" stroke-width="0.3">e</text>
<path d="M498 182.3H684.5V321H498Z" fill="none" stroke="#404040" stroke-width="1.05" stroke-linejoin="miter"/>
<rect x="495.8" y="250.9" width="5" height="2.2" fill="#fff"/>
<line x1="495.7" y1="251.4" x2="500.9" y2="249.6" stroke="#4a4a4a" stroke-width="0.9" />
<line x1="495.7" y1="254.3" x2="500.9" y2="252.5" stroke="#4a4a4a" stroke-width="0.9" />
<rect x="681.6" y="250.9" width="5" height="2.2" fill="#fff"/>
<line x1="681.5" y1="251.4" x2="686.7" y2="249.6" stroke="#4a4a4a" stroke-width="0.9" />
<line x1="681.5" y1="254.3" x2="686.7" y2="252.5" stroke="#4a4a4a" stroke-width="0.9" />
<line x1="496.1" y1="190.3" x2="498.3" y2="190.3" stroke="#4a4a4a" stroke-width="1.2" />
<line x1="496.1" y1="227.6" x2="498.3" y2="227.6" stroke="#4a4a4a" stroke-width="1.2" />
<line x1="496.1" y1="275.6" x2="498.3" y2="275.6" stroke="#4a4a4a" stroke-width="1.2" />
<line x1="496.1" y1="313.4" x2="498.3" y2="313.4" stroke="#4a4a4a" stroke-width="1.2" />
<line x1="496.7" y1="208.95" x2="498.3" y2="208.95" stroke="#4a4a4a" stroke-width="1.0" />
<line x1="496.7" y1="294.5" x2="498.3" y2="294.5" stroke="#4a4a4a" stroke-width="1.0" />
<text x="495" y="193.9" font-size="10" text-anchor="end" font-weight="normal" fill="#111" font-family='"Liberation Sans", sans-serif'  stroke="#111" stroke-width="0.3">40</text>
<text x="495" y="231.2" font-size="10" text-anchor="end" font-weight="normal" fill="#111" font-family='"Liberation Sans", sans-serif'  stroke="#111" stroke-width="0.3">20</text>
<text x="495" y="279.2" font-size="10" text-anchor="end" font-weight="normal" fill="#111" font-family='"Liberation Sans", sans-serif'  stroke="#111" stroke-width="0.3">-20</text>
<text x="495" y="317" font-size="10" text-anchor="end" font-weight="normal" fill="#111" font-family='"Liberation Sans", sans-serif'  stroke="#111" stroke-width="0.3">-40</text>
<line x1="513.35" y1="320.9" x2="513.35" y2="323.1" stroke="#4a4a4a" stroke-width="1.2" />
<line x1="591" y1="320.9" x2="591" y2="323.1" stroke="#4a4a4a" stroke-width="1.2" />
<line x1="668.65" y1="320.9" x2="668.65" y2="323.1" stroke="#4a4a4a" stroke-width="1.2" />
<line x1="552.17" y1="320.9" x2="552.17" y2="322.5" stroke="#4a4a4a" stroke-width="1.0" />
<line x1="629.83" y1="320.9" x2="629.83" y2="322.5" stroke="#4a4a4a" stroke-width="1.0" />
<text x="512.35" y="331.6" font-size="10" text-anchor="middle" font-weight="normal" fill="#111" font-family='"Liberation Sans", sans-serif'  stroke="#111" stroke-width="0.3">-0.5</text>
<text x="591" y="331.6" font-size="10" text-anchor="middle" font-weight="normal" fill="#111" font-family='"Liberation Sans", sans-serif'  stroke="#111" stroke-width="0.3">0</text>
<text x="668.65" y="331.6" font-size="10" text-anchor="middle" font-weight="normal" fill="#111" font-family='"Liberation Sans", sans-serif'  stroke="#111" stroke-width="0.3">0.5</text>
<text x="590" y="344.8" font-size="10" text-anchor="middle" font-weight="normal" fill="#111" font-family='"Liberation Sans", sans-serif'  stroke="#111" stroke-width="0.3">Magnetic Field (T)</text>
<text x="479.6" y="252.2" font-size="10" text-anchor="middle" fill="#111" font-family='"Liberation Sans", sans-serif' transform="rotate(-90 479.6 252.2)" stroke="#111" stroke-width="0.45">DCP (%)</text>
<polyline points="513.35,241.2 528.88,239.3 544.41,237.1 559.94,228.1 575.47,230 591,214.6 606.53,211.6 622.06,206.5 637.59,204.7 653.12,196.2 668.65,191.6" stroke="#ff2a2a" stroke-width="1.0" fill="none" stroke-linejoin="round" />
<circle cx="513.35" cy="241.2" r="1.6" fill="#ff2a2a"/>
<circle cx="528.88" cy="239.3" r="1.6" fill="#ff2a2a"/>
<circle cx="544.41" cy="237.1" r="1.6" fill="#ff2a2a"/>
<circle cx="559.94" cy="228.1" r="1.6" fill="#ff2a2a"/>
<circle cx="575.47" cy="230" r="1.6" fill="#ff2a2a"/>
<circle cx="591" cy="214.6" r="1.6" fill="#ff2a2a"/>
<circle cx="606.53" cy="211.6" r="1.6" fill="#ff2a2a"/>
<circle cx="622.06" cy="206.5" r="1.6" fill="#ff2a2a"/>
<circle cx="637.59" cy="204.7" r="1.6" fill="#ff2a2a"/>
<circle cx="653.12" cy="196.2" r="1.6" fill="#ff2a2a"/>
<circle cx="668.65" cy="191.6" r="1.6" fill="#ff2a2a"/>
<polyline points="513.35,308.1 528.88,308.4 544.41,302.1 559.94,301.5 575.47,295.9 591,290.8 606.53,283.7 622.06,273.8 637.59,271.2 653.12,268.4 668.65,256" stroke="#2a2aff" stroke-width="1.0" fill="none" stroke-linejoin="round" />
<circle cx="513.35" cy="308.1" r="1.6" fill="#2a2aff"/>
<circle cx="528.88" cy="308.4" r="1.6" fill="#2a2aff"/>
<circle cx="544.41" cy="302.1" r="1.6" fill="#2a2aff"/>
<circle cx="559.94" cy="301.5" r="1.6" fill="#2a2aff"/>
<circle cx="575.47" cy="295.9" r="1.6" fill="#2a2aff"/>
<circle cx="591" cy="290.8" r="1.6" fill="#2a2aff"/>
<circle cx="606.53" cy="283.7" r="1.6" fill="#2a2aff"/>
<circle cx="622.06" cy="273.8" r="1.6" fill="#2a2aff"/>
<circle cx="637.59" cy="271.2" r="1.6" fill="#2a2aff"/>
<circle cx="653.12" cy="268.4" r="1.6" fill="#2a2aff"/>
<circle cx="668.65" cy="256" r="1.6" fill="#2a2aff"/>
<line x1="504.2" y1="195.4" x2="525.8" y2="195.4" stroke="#ff2a2a" stroke-width="1.1" />
<circle cx="515.1" cy="195.4" r="1.6" fill="#ff2a2a"/>
<line x1="504.2" y1="207" x2="525.8" y2="207" stroke="#7d88ff" stroke-width="1.8" />
<circle cx="515.1" cy="207.0" r="1.6" fill="#2a2aff"/>
<text x="531.1" y="198.3" font-size="10.5" fill="#111" font-family='"Liberation Serif", serif' textLength="6.1" lengthAdjust="spacingAndGlyphs" stroke="#111" stroke-width="0.3">σ</text>
<text x="537.8" y="195.8" font-size="7.5" fill="#111" font-family='"Liberation Serif", serif' stroke="#111" stroke-width="0.12">+</text>
<text x="537.6" y="200.7" font-size="7.6" fill="#111" font-family='"Liberation Serif", serif' textLength="19.6" lengthAdjust="spacingAndGlyphs" stroke="#111" stroke-width="0.12">pump</text>
<text x="531.1" y="209.6" font-size="10.5" fill="#111" font-family='"Liberation Serif", serif' textLength="6.1" lengthAdjust="spacingAndGlyphs" stroke="#111" stroke-width="0.3">σ</text>
<text x="537.8" y="207.1" font-size="7.5" fill="#111" font-family='"Liberation Serif", serif' stroke="#111" stroke-width="0.12">−</text>
<text x="537.6" y="212.1" font-size="7.6" fill="#111" font-family='"Liberation Serif", serif' textLength="19.6" lengthAdjust="spacingAndGlyphs" stroke="#111" stroke-width="0.12">pump</text>
</svg>
</body></html>
